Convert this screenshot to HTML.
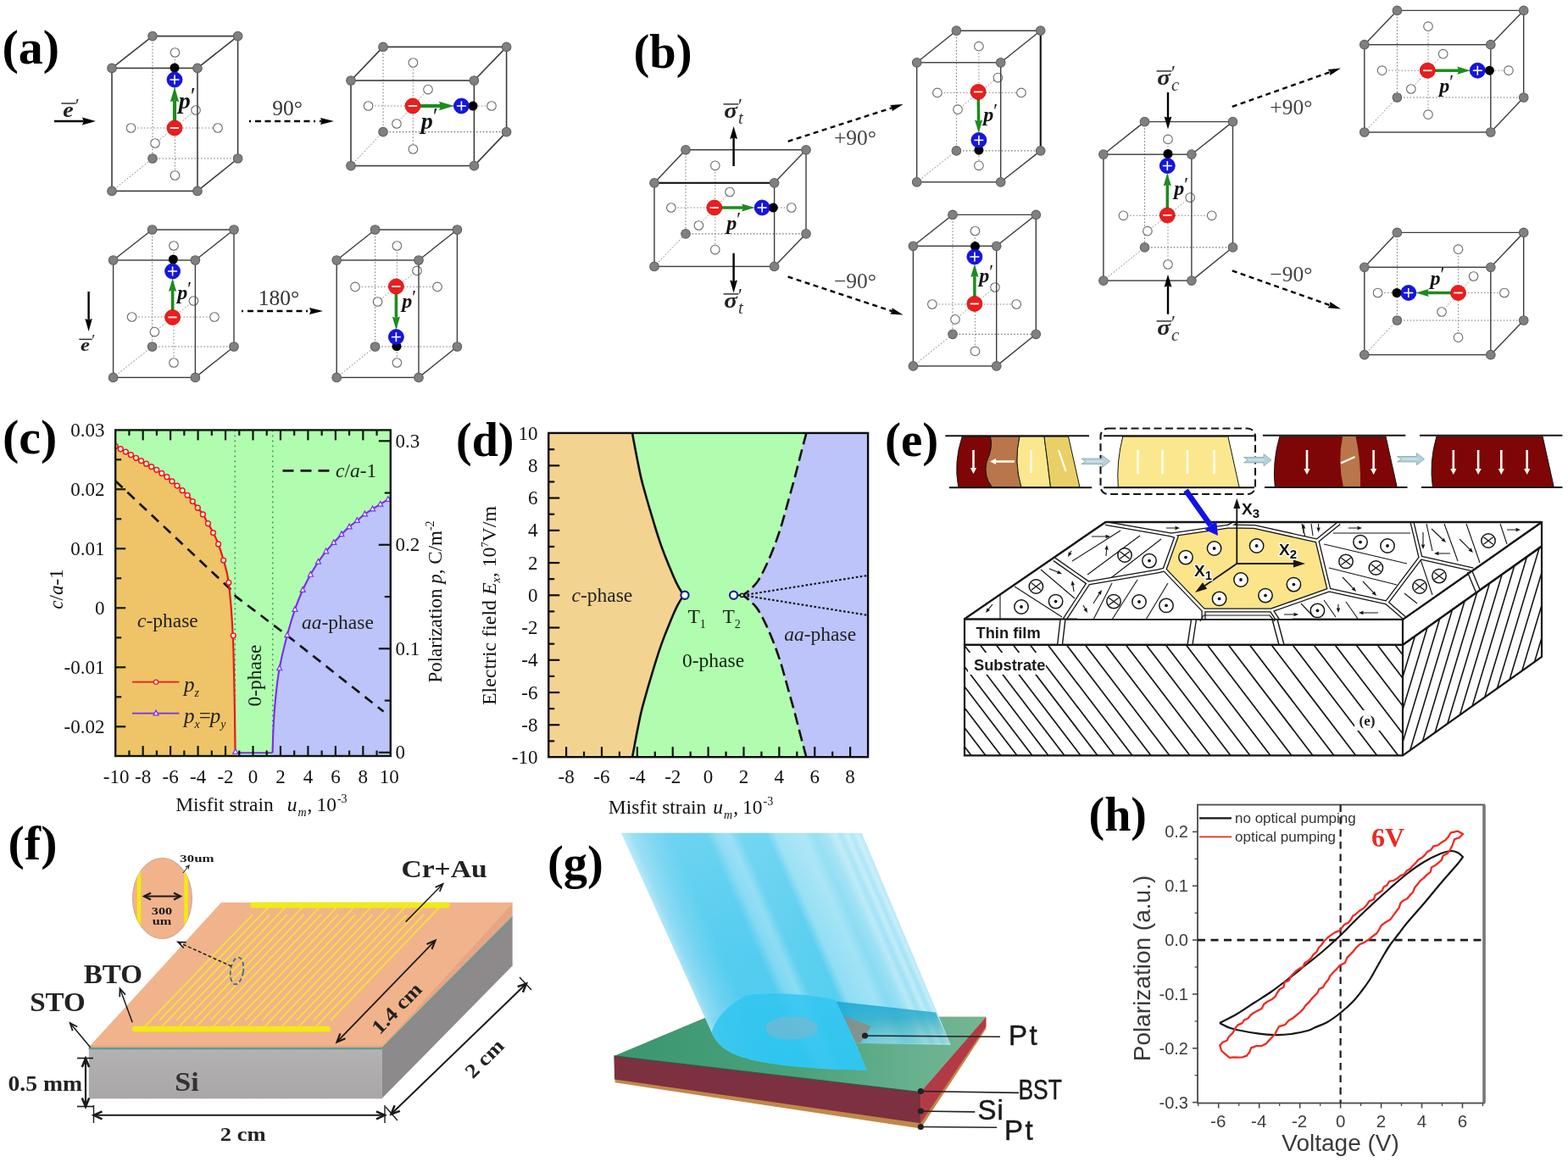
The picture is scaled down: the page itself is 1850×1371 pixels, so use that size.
<!DOCTYPE html>
<html><head><meta charset="utf-8"><title>Figure</title>
<style>
html,body{margin:0;padding:0;background:#fff;}
body{width:1850px;height:1371px;overflow:hidden;}
svg{display:block;}
text{white-space:pre;}
</style></head><body>
<svg width="1850" height="1371" viewBox="0 0 1850 1371">
<rect width="1850" height="1371" fill="#fff"/>
<g>
<line x1="180" y1="42.6" x2="180" y2="187" stroke="#777" stroke-width="1" stroke-dasharray="1.6 2.2"/>
<line x1="180" y1="187" x2="280.6" y2="187" stroke="#777" stroke-width="1.2" stroke-dasharray="1.6 2.2"/>
<line x1="132" y1="225.4" x2="180" y2="187" stroke="#777" stroke-width="1" stroke-dasharray="1.6 2.2"/>
<line x1="154.5" y1="151" x2="257" y2="151" stroke="#888" stroke-width="1" stroke-dasharray="1.6 2.2"/>
<line x1="206.5" y1="62" x2="206.5" y2="207" stroke="#888" stroke-width="1" stroke-dasharray="1.6 2.2"/>
<line x1="183" y1="169" x2="231" y2="130" stroke="#888" stroke-width="1" stroke-dasharray="1.6 2.2"/>
<line x1="180" y1="42.6" x2="280.6" y2="42.6" stroke="#3c3c3c" stroke-width="1.6" />
<line x1="280.6" y1="42.6" x2="280.6" y2="187" stroke="#3c3c3c" stroke-width="1.6" />
<line x1="132" y1="80.4" x2="180" y2="42.6" stroke="#3c3c3c" stroke-width="1.6" />
<line x1="233" y1="80.4" x2="280.6" y2="42.6" stroke="#3c3c3c" stroke-width="1.6" />
<line x1="233" y1="225.4" x2="280.6" y2="187" stroke="#3c3c3c" stroke-width="1.6" />
<circle cx="206.5" cy="62" r="5.3" fill="#fff" stroke="#6a6a6a" stroke-width="1.1" />
<circle cx="206.5" cy="207" r="5.3" fill="#fff" stroke="#6a6a6a" stroke-width="1.1" />
<circle cx="154.5" cy="151" r="5.3" fill="#fff" stroke="#6a6a6a" stroke-width="1.1" />
<circle cx="257" cy="151" r="5.3" fill="#fff" stroke="#6a6a6a" stroke-width="1.1" />
<circle cx="231" cy="130" r="5.3" fill="#fff" stroke="#6a6a6a" stroke-width="1.1" />
<circle cx="183" cy="169" r="5.3" fill="#fff" stroke="#6a6a6a" stroke-width="1.1" />
<rect x="132" y="80.4" width="101" height="145" fill="none" stroke="#3c3c3c" stroke-width="1.6"/>
<circle cx="180" cy="42.6" r="5.3" fill="#808080" stroke="#606060" stroke-width="1.1" />
<circle cx="280.6" cy="42.6" r="5.3" fill="#808080" stroke="#606060" stroke-width="1.1" />
<circle cx="180" cy="187" r="5.3" fill="#808080" stroke="#606060" stroke-width="1.1" />
<circle cx="280.6" cy="187" r="5.3" fill="#808080" stroke="#606060" stroke-width="1.1" />
<circle cx="132" cy="80.4" r="5.3" fill="#808080" stroke="#606060" stroke-width="1.1" />
<circle cx="233" cy="80.4" r="5.3" fill="#808080" stroke="#606060" stroke-width="1.1" />
<circle cx="132" cy="225.4" r="5.3" fill="#808080" stroke="#606060" stroke-width="1.1" />
<circle cx="233" cy="225.4" r="5.3" fill="#808080" stroke="#606060" stroke-width="1.1" />
<circle cx="206" cy="80" r="5.5" fill="#000" stroke="none" stroke-width="1" />
<line x1="206" y1="143" x2="206" y2="118.34" stroke="#1c8c1c" stroke-width="4.2"/>
<polygon points="206,102.5 211.2,120.5 206,118.34 200.8,120.5" fill="#1c8c1c" stroke="none" stroke-width="1" />
<circle cx="206" cy="151" r="9" fill="#ee1c1c" stroke="#c01010" stroke-width="0.8" />
<line x1="200.8" y1="151" x2="211.2" y2="151" stroke="#fff" stroke-width="1.8" />
<circle cx="206" cy="94" r="9" fill="#1414e6" stroke="#0a0aa8" stroke-width="0.8" />
<line x1="200.5" y1="94" x2="211.5" y2="94" stroke="#fff" stroke-width="1.6" />
<line x1="206" y1="88.5" x2="206" y2="99.5" stroke="#fff" stroke-width="1.6" />
<text x="220" y="128" font-family="&quot;Liberation Serif&quot;, serif" font-size="28" font-weight="bold" font-style="italic" fill="#111" text-anchor="middle">p<tspan font-weight="normal" font-size="26.6" dy="-6.16" dx="-1.5">′</tspan></text>
</g>
<g>
<line x1="452" y1="55.4" x2="452" y2="155.6" stroke="#777" stroke-width="1" stroke-dasharray="1.6 2.2"/>
<line x1="452" y1="155.6" x2="597.6" y2="155.6" stroke="#777" stroke-width="1.2" stroke-dasharray="1.6 2.2"/>
<line x1="414" y1="195.6" x2="452" y2="155.6" stroke="#777" stroke-width="1" stroke-dasharray="1.6 2.2"/>
<line x1="434.6" y1="125" x2="580" y2="125" stroke="#888" stroke-width="1" stroke-dasharray="1.6 2.2"/>
<line x1="487.4" y1="74" x2="487.4" y2="176" stroke="#888" stroke-width="1" stroke-dasharray="1.6 2.2"/>
<line x1="468" y1="146" x2="505" y2="105.6" stroke="#888" stroke-width="1" stroke-dasharray="1.6 2.2"/>
<line x1="452" y1="55.4" x2="597.6" y2="55.4" stroke="#3c3c3c" stroke-width="1.6" />
<line x1="597.6" y1="55.4" x2="597.6" y2="155.6" stroke="#3c3c3c" stroke-width="1.6" />
<line x1="414" y1="95" x2="452" y2="55.4" stroke="#3c3c3c" stroke-width="1.6" />
<line x1="559.4" y1="95" x2="597.6" y2="55.4" stroke="#3c3c3c" stroke-width="1.6" />
<line x1="559.4" y1="195.6" x2="597.6" y2="155.6" stroke="#3c3c3c" stroke-width="1.6" />
<circle cx="487.4" cy="74" r="5.3" fill="#fff" stroke="#6a6a6a" stroke-width="1.1" />
<circle cx="487.4" cy="176" r="5.3" fill="#fff" stroke="#6a6a6a" stroke-width="1.1" />
<circle cx="434.6" cy="125" r="5.3" fill="#fff" stroke="#6a6a6a" stroke-width="1.1" />
<circle cx="580" cy="125" r="5.3" fill="#fff" stroke="#6a6a6a" stroke-width="1.1" />
<circle cx="505" cy="105.6" r="5.3" fill="#fff" stroke="#6a6a6a" stroke-width="1.1" />
<circle cx="468" cy="146" r="5.3" fill="#fff" stroke="#6a6a6a" stroke-width="1.1" />
<rect x="414" y="95" width="145.4" height="100.6" fill="none" stroke="#3c3c3c" stroke-width="1.6"/>
<circle cx="452" cy="55.4" r="5.3" fill="#808080" stroke="#606060" stroke-width="1.1" />
<circle cx="597.6" cy="55.4" r="5.3" fill="#808080" stroke="#606060" stroke-width="1.1" />
<circle cx="452" cy="155.6" r="5.3" fill="#808080" stroke="#606060" stroke-width="1.1" />
<circle cx="597.6" cy="155.6" r="5.3" fill="#808080" stroke="#606060" stroke-width="1.1" />
<circle cx="414" cy="95" r="5.3" fill="#808080" stroke="#606060" stroke-width="1.1" />
<circle cx="559.4" cy="95" r="5.3" fill="#808080" stroke="#606060" stroke-width="1.1" />
<circle cx="414" cy="195.6" r="5.3" fill="#808080" stroke="#606060" stroke-width="1.1" />
<circle cx="559.4" cy="195.6" r="5.3" fill="#808080" stroke="#606060" stroke-width="1.1" />
<circle cx="558" cy="125" r="5.5" fill="#000" stroke="none" stroke-width="1" />
<line x1="495" y1="125" x2="520.06" y2="125" stroke="#1c8c1c" stroke-width="4.2"/>
<polygon points="535.9,125 517.9,130.2 520.06,125 517.9,119.8" fill="#1c8c1c" stroke="none" stroke-width="1" />
<circle cx="487" cy="125" r="9" fill="#ee1c1c" stroke="#c01010" stroke-width="0.8" />
<line x1="481.8" y1="125" x2="492.2" y2="125" stroke="#fff" stroke-width="1.8" />
<circle cx="544.4" cy="125" r="9" fill="#1414e6" stroke="#0a0aa8" stroke-width="0.8" />
<line x1="538.9" y1="125" x2="549.9" y2="125" stroke="#fff" stroke-width="1.6" />
<line x1="544.4" y1="119.5" x2="544.4" y2="130.5" stroke="#fff" stroke-width="1.6" />
<text x="506" y="152" font-family="&quot;Liberation Serif&quot;, serif" font-size="28" font-weight="bold" font-style="italic" fill="#111" text-anchor="middle">p<tspan font-weight="normal" font-size="26.6" dy="-6.16" dx="-1.5">′</tspan></text>
</g>
<g>
<line x1="179.6" y1="271" x2="179.6" y2="409" stroke="#777" stroke-width="1" stroke-dasharray="1.6 2.2"/>
<line x1="179.6" y1="409" x2="276" y2="409" stroke="#777" stroke-width="1.2" stroke-dasharray="1.6 2.2"/>
<line x1="133.6" y1="445.4" x2="179.6" y2="409" stroke="#777" stroke-width="1" stroke-dasharray="1.6 2.2"/>
<line x1="155.6" y1="374" x2="253" y2="374" stroke="#888" stroke-width="1" stroke-dasharray="1.6 2.2"/>
<line x1="205" y1="290" x2="205" y2="428" stroke="#888" stroke-width="1" stroke-dasharray="1.6 2.2"/>
<line x1="182.4" y1="391.6" x2="228.4" y2="355" stroke="#888" stroke-width="1" stroke-dasharray="1.6 2.2"/>
<line x1="179.6" y1="271" x2="276" y2="271" stroke="#3c3c3c" stroke-width="1.4" />
<line x1="276" y1="271" x2="276" y2="409" stroke="#3c3c3c" stroke-width="1.4" />
<line x1="133.6" y1="307" x2="179.6" y2="271" stroke="#3c3c3c" stroke-width="1.4" />
<line x1="230.4" y1="307" x2="276" y2="271" stroke="#3c3c3c" stroke-width="1.4" />
<line x1="230.4" y1="445.4" x2="276" y2="409" stroke="#3c3c3c" stroke-width="1.4" />
<circle cx="205" cy="290" r="5.3" fill="#fff" stroke="#6a6a6a" stroke-width="1.1" />
<circle cx="205" cy="428" r="5.3" fill="#fff" stroke="#6a6a6a" stroke-width="1.1" />
<circle cx="155.6" cy="374" r="5.3" fill="#fff" stroke="#6a6a6a" stroke-width="1.1" />
<circle cx="253" cy="374" r="5.3" fill="#fff" stroke="#6a6a6a" stroke-width="1.1" />
<circle cx="228.4" cy="355" r="5.3" fill="#fff" stroke="#6a6a6a" stroke-width="1.1" />
<circle cx="182.4" cy="391.6" r="5.3" fill="#fff" stroke="#6a6a6a" stroke-width="1.1" />
<rect x="133.6" y="307" width="96.8" height="138.4" fill="none" stroke="#3c3c3c" stroke-width="1.4"/>
<circle cx="179.6" cy="271" r="5.3" fill="#808080" stroke="#606060" stroke-width="1.1" />
<circle cx="276" cy="271" r="5.3" fill="#808080" stroke="#606060" stroke-width="1.1" />
<circle cx="179.6" cy="409" r="5.3" fill="#808080" stroke="#606060" stroke-width="1.1" />
<circle cx="276" cy="409" r="5.3" fill="#808080" stroke="#606060" stroke-width="1.1" />
<circle cx="133.6" cy="307" r="5.3" fill="#808080" stroke="#606060" stroke-width="1.1" />
<circle cx="230.4" cy="307" r="5.3" fill="#808080" stroke="#606060" stroke-width="1.1" />
<circle cx="133.6" cy="445.4" r="5.3" fill="#808080" stroke="#606060" stroke-width="1.1" />
<circle cx="230.4" cy="445.4" r="5.3" fill="#808080" stroke="#606060" stroke-width="1.1" />
<circle cx="204.4" cy="306" r="5.5" fill="#000" stroke="none" stroke-width="1" />
<line x1="203.6" y1="366.4" x2="203.6" y2="342.14" stroke="#1c8c1c" stroke-width="3.5"/>
<polygon points="203.6,328.5 208.2,344 203.6,342.14 199,344" fill="#1c8c1c" stroke="none" stroke-width="1" />
<circle cx="203.6" cy="374.4" r="9" fill="#ee1c1c" stroke="#c01010" stroke-width="0.8" />
<line x1="198.4" y1="374.4" x2="208.8" y2="374.4" stroke="#fff" stroke-width="1.8" />
<circle cx="203.6" cy="320" r="9" fill="#1414e6" stroke="#0a0aa8" stroke-width="0.8" />
<line x1="198.1" y1="320" x2="209.1" y2="320" stroke="#fff" stroke-width="1.6" />
<line x1="203.6" y1="314.5" x2="203.6" y2="325.5" stroke="#fff" stroke-width="1.6" />
<text x="217" y="353" font-family="&quot;Liberation Serif&quot;, serif" font-size="24" font-weight="bold" font-style="italic" fill="#111" text-anchor="middle">p<tspan font-weight="normal" font-size="22.8" dy="-5.28" dx="-1.5">′</tspan></text>
</g>
<g>
<line x1="442.6" y1="271" x2="442.6" y2="409" stroke="#777" stroke-width="1" stroke-dasharray="1.6 2.2"/>
<line x1="442.6" y1="409" x2="539.4" y2="409" stroke="#777" stroke-width="1.2" stroke-dasharray="1.6 2.2"/>
<line x1="397.2" y1="445.4" x2="442.6" y2="409" stroke="#777" stroke-width="1" stroke-dasharray="1.6 2.2"/>
<line x1="419" y1="338.4" x2="516" y2="338.4" stroke="#888" stroke-width="1" stroke-dasharray="1.6 2.2"/>
<line x1="468.4" y1="290" x2="468.4" y2="428" stroke="#888" stroke-width="1" stroke-dasharray="1.6 2.2"/>
<line x1="445.6" y1="356" x2="492" y2="319.4" stroke="#888" stroke-width="1" stroke-dasharray="1.6 2.2"/>
<line x1="442.6" y1="271" x2="539.4" y2="271" stroke="#3c3c3c" stroke-width="1.4" />
<line x1="539.4" y1="271" x2="539.4" y2="409" stroke="#3c3c3c" stroke-width="1.4" />
<line x1="397.2" y1="307" x2="442.6" y2="271" stroke="#3c3c3c" stroke-width="1.4" />
<line x1="494" y1="307" x2="539.4" y2="271" stroke="#3c3c3c" stroke-width="1.4" />
<line x1="494" y1="445.4" x2="539.4" y2="409" stroke="#3c3c3c" stroke-width="1.4" />
<circle cx="468.4" cy="290" r="5.3" fill="#fff" stroke="#6a6a6a" stroke-width="1.1" />
<circle cx="468.4" cy="428" r="5.3" fill="#fff" stroke="#6a6a6a" stroke-width="1.1" />
<circle cx="419" cy="338.4" r="5.3" fill="#fff" stroke="#6a6a6a" stroke-width="1.1" />
<circle cx="516" cy="338.4" r="5.3" fill="#fff" stroke="#6a6a6a" stroke-width="1.1" />
<circle cx="492" cy="319.4" r="5.3" fill="#fff" stroke="#6a6a6a" stroke-width="1.1" />
<circle cx="445.6" cy="356" r="5.3" fill="#fff" stroke="#6a6a6a" stroke-width="1.1" />
<rect x="397.2" y="307" width="96.8" height="138.4" fill="none" stroke="#3c3c3c" stroke-width="1.4"/>
<circle cx="442.6" cy="271" r="5.3" fill="#808080" stroke="#606060" stroke-width="1.1" />
<circle cx="539.4" cy="271" r="5.3" fill="#808080" stroke="#606060" stroke-width="1.1" />
<circle cx="442.6" cy="409" r="5.3" fill="#808080" stroke="#606060" stroke-width="1.1" />
<circle cx="539.4" cy="409" r="5.3" fill="#808080" stroke="#606060" stroke-width="1.1" />
<circle cx="397.2" cy="307" r="5.3" fill="#808080" stroke="#606060" stroke-width="1.1" />
<circle cx="494" cy="307" r="5.3" fill="#808080" stroke="#606060" stroke-width="1.1" />
<circle cx="397.2" cy="445.4" r="5.3" fill="#808080" stroke="#606060" stroke-width="1.1" />
<circle cx="494" cy="445.4" r="5.3" fill="#808080" stroke="#606060" stroke-width="1.1" />
<circle cx="468" cy="408.6" r="5.5" fill="#000" stroke="none" stroke-width="1" />
<line x1="467.4" y1="346" x2="467.4" y2="375.46" stroke="#1c8c1c" stroke-width="3.5"/>
<polygon points="467.4,389.1 462.8,373.6 467.4,375.46 472,373.6" fill="#1c8c1c" stroke="none" stroke-width="1" />
<circle cx="467.4" cy="338" r="9" fill="#ee1c1c" stroke="#c01010" stroke-width="0.8" />
<line x1="462.2" y1="338" x2="472.6" y2="338" stroke="#fff" stroke-width="1.8" />
<circle cx="467.4" cy="397.6" r="9" fill="#1414e6" stroke="#0a0aa8" stroke-width="0.8" />
<line x1="461.9" y1="397.6" x2="472.9" y2="397.6" stroke="#fff" stroke-width="1.6" />
<line x1="467.4" y1="392.1" x2="467.4" y2="403.1" stroke="#fff" stroke-width="1.6" />
<text x="482" y="363" font-family="&quot;Liberation Serif&quot;, serif" font-size="24" font-weight="bold" font-style="italic" fill="#111" text-anchor="middle">p<tspan font-weight="normal" font-size="22.8" dy="-5.28" dx="-1.5">′</tspan></text>
</g>
<line x1="64" y1="143" x2="98.6" y2="143" stroke="#000" stroke-width="2.6"/>
<polygon points="113,143 97,147.4 98.6,143 97,138.6" fill="#000" stroke="none" stroke-width="1" />
<text transform="translate(80.5,137.5) scale(1.12,1)" font-family="&quot;Liberation Serif&quot;, serif" font-size="25" font-weight="bold" font-style="italic" fill="#222" text-anchor="middle">e</text>
<line x1="72.38" y1="122" x2="89.62" y2="122" stroke="#333" stroke-width="1.5" />
<text x="89.12" y="130.5" font-family="&quot;Liberation Serif&quot;, serif" font-size="21.25" fill="#222">′</text>
<line x1="104.6" y1="344" x2="104.6" y2="377.5" stroke="#000" stroke-width="2.4"/>
<polygon points="104.6,391 100.4,376 104.6,377.5 108.8,376" fill="#000" stroke="none" stroke-width="1" />
<text transform="translate(100.5,414) scale(1.12,1)" font-family="&quot;Liberation Serif&quot;, serif" font-size="22" font-weight="bold" font-style="italic" fill="#222" text-anchor="middle">e</text>
<line x1="93.35" y1="400.36" x2="108.65" y2="400.36" stroke="#333" stroke-width="1.5" />
<text x="108.15" y="407.84" font-family="&quot;Liberation Serif&quot;, serif" font-size="18.7" fill="#222">′</text>
<line x1="294" y1="143" x2="379.6" y2="143" stroke="#000" stroke-width="2.4" stroke-dasharray="2 5 7 4.5 7 4.5 7 4.5 7 4.5 7 4.5 7 4.5"/>
<polygon points="394,143 378,147 379.6,143 378,139" fill="#000" stroke="none" stroke-width="1" />
<text x="339" y="135.5" font-family="&quot;Liberation Serif&quot;, serif" font-size="25.5" font-weight="normal" font-style="normal" fill="#333" text-anchor="middle" >90°</text>
<line x1="285" y1="367" x2="366.6" y2="367" stroke="#000" stroke-width="2.4" stroke-dasharray="2 5 7 4.5 7 4.5 7 4.5 7 4.5 7 4.5 7 4.5"/>
<polygon points="381,367 365,371 366.6,367 365,363" fill="#000" stroke="none" stroke-width="1" />
<text x="329" y="360" font-family="&quot;Liberation Serif&quot;, serif" font-size="25.5" font-weight="normal" font-style="normal" fill="#333" text-anchor="middle" >180°</text>
<g>
<line x1="809" y1="176.8" x2="809" y2="275.8" stroke="#777" stroke-width="1" stroke-dasharray="1.6 2.2"/>
<line x1="809" y1="275.8" x2="951" y2="275.8" stroke="#777" stroke-width="1.2" stroke-dasharray="1.6 2.2"/>
<line x1="772" y1="314.4" x2="809" y2="275.8" stroke="#777" stroke-width="1" stroke-dasharray="1.6 2.2"/>
<line x1="791.8" y1="245" x2="933.8" y2="245" stroke="#888" stroke-width="1" stroke-dasharray="1.6 2.2"/>
<line x1="843.8" y1="195.3" x2="843.8" y2="294.6" stroke="#888" stroke-width="1" stroke-dasharray="1.6 2.2"/>
<line x1="824.4" y1="266" x2="861" y2="226.5" stroke="#888" stroke-width="1" stroke-dasharray="1.6 2.2"/>
<line x1="809" y1="176.8" x2="951" y2="176.8" stroke="#3c3c3c" stroke-width="1.4" />
<line x1="951" y1="176.8" x2="951" y2="275.8" stroke="#3c3c3c" stroke-width="1.4" />
<line x1="772" y1="215.8" x2="809" y2="176.8" stroke="#3c3c3c" stroke-width="1.4" />
<line x1="913.6" y1="215.8" x2="951" y2="176.8" stroke="#3c3c3c" stroke-width="1.4" />
<line x1="913.6" y1="314.4" x2="951" y2="275.8" stroke="#3c3c3c" stroke-width="1.4" />
<circle cx="843.8" cy="195.3" r="5.3" fill="#fff" stroke="#6a6a6a" stroke-width="1.1" />
<circle cx="843.8" cy="294.6" r="5.3" fill="#fff" stroke="#6a6a6a" stroke-width="1.1" />
<circle cx="791.8" cy="245" r="5.3" fill="#fff" stroke="#6a6a6a" stroke-width="1.1" />
<circle cx="933.8" cy="245" r="5.3" fill="#fff" stroke="#6a6a6a" stroke-width="1.1" />
<circle cx="861" cy="226.5" r="5.3" fill="#fff" stroke="#6a6a6a" stroke-width="1.1" />
<circle cx="824.4" cy="266" r="5.3" fill="#fff" stroke="#6a6a6a" stroke-width="1.1" />
<rect x="772" y="215.8" width="141.6" height="98.6" fill="none" stroke="#3c3c3c" stroke-width="1.4"/>
<line x1="772" y1="215.8" x2="913.6" y2="215.8" stroke="#111" stroke-width="2" />
<circle cx="809" cy="176.8" r="5.3" fill="#808080" stroke="#606060" stroke-width="1.1" />
<circle cx="951" cy="176.8" r="5.3" fill="#808080" stroke="#606060" stroke-width="1.1" />
<circle cx="809" cy="275.8" r="5.3" fill="#808080" stroke="#606060" stroke-width="1.1" />
<circle cx="951" cy="275.8" r="5.3" fill="#808080" stroke="#606060" stroke-width="1.1" />
<circle cx="772" cy="215.8" r="5.3" fill="#808080" stroke="#606060" stroke-width="1.1" />
<circle cx="913.6" cy="215.8" r="5.3" fill="#808080" stroke="#606060" stroke-width="1.1" />
<circle cx="772" cy="314.4" r="5.3" fill="#808080" stroke="#606060" stroke-width="1.1" />
<circle cx="913.6" cy="314.4" r="5.3" fill="#808080" stroke="#606060" stroke-width="1.1" />
<circle cx="912.3" cy="245" r="5.5" fill="#000" stroke="none" stroke-width="1" />
<line x1="850.8" y1="245" x2="877.06" y2="245" stroke="#1c8c1c" stroke-width="3.5"/>
<polygon points="890.7,245 875.2,249.6 877.06,245 875.2,240.4" fill="#1c8c1c" stroke="none" stroke-width="1" />
<circle cx="842.8" cy="245" r="9" fill="#ee1c1c" stroke="#c01010" stroke-width="0.8" />
<line x1="837.6" y1="245" x2="848" y2="245" stroke="#fff" stroke-width="1.8" />
<circle cx="899.2" cy="245" r="9" fill="#1414e6" stroke="#0a0aa8" stroke-width="0.8" />
<line x1="893.7" y1="245" x2="904.7" y2="245" stroke="#fff" stroke-width="1.6" />
<line x1="899.2" y1="239.5" x2="899.2" y2="250.5" stroke="#fff" stroke-width="1.6" />
<text x="865" y="271" font-family="&quot;Liberation Serif&quot;, serif" font-size="24" font-weight="bold" font-style="italic" fill="#111" text-anchor="middle">p<tspan font-weight="normal" font-size="22.8" dy="-5.28" dx="-1.5">′</tspan></text>
</g>
<g>
<line x1="1128.4" y1="36.2" x2="1128.4" y2="177.9" stroke="#777" stroke-width="1" stroke-dasharray="1.6 2.2"/>
<line x1="1128.4" y1="177.9" x2="1227.7" y2="177.9" stroke="#777" stroke-width="1.2" stroke-dasharray="1.6 2.2"/>
<line x1="1081.7" y1="214.8" x2="1128.4" y2="177.9" stroke="#777" stroke-width="1" stroke-dasharray="1.6 2.2"/>
<line x1="1105.9" y1="109.4" x2="1204.9" y2="109.4" stroke="#888" stroke-width="1" stroke-dasharray="1.6 2.2"/>
<line x1="1154.9" y1="54.7" x2="1154.9" y2="195.3" stroke="#888" stroke-width="1" stroke-dasharray="1.6 2.2"/>
<line x1="1130" y1="129.2" x2="1177.4" y2="91.6" stroke="#888" stroke-width="1" stroke-dasharray="1.6 2.2"/>
<line x1="1128.4" y1="36.2" x2="1227.7" y2="36.2" stroke="#3c3c3c" stroke-width="1.4" />
<line x1="1227.7" y1="36.2" x2="1227.7" y2="177.9" stroke="#3c3c3c" stroke-width="1.4" />
<line x1="1081.7" y1="73.8" x2="1128.4" y2="36.2" stroke="#3c3c3c" stroke-width="1.4" />
<line x1="1180.7" y1="73.8" x2="1227.7" y2="36.2" stroke="#3c3c3c" stroke-width="1.4" />
<line x1="1180.7" y1="214.8" x2="1227.7" y2="177.9" stroke="#3c3c3c" stroke-width="1.4" />
<circle cx="1154.9" cy="54.7" r="5.3" fill="#fff" stroke="#6a6a6a" stroke-width="1.1" />
<circle cx="1154.9" cy="195.3" r="5.3" fill="#fff" stroke="#6a6a6a" stroke-width="1.1" />
<circle cx="1105.9" cy="109.4" r="5.3" fill="#fff" stroke="#6a6a6a" stroke-width="1.1" />
<circle cx="1204.9" cy="109.4" r="5.3" fill="#fff" stroke="#6a6a6a" stroke-width="1.1" />
<circle cx="1177.4" cy="91.6" r="5.3" fill="#fff" stroke="#6a6a6a" stroke-width="1.1" />
<circle cx="1130" cy="129.2" r="5.3" fill="#fff" stroke="#6a6a6a" stroke-width="1.1" />
<rect x="1081.7" y="73.8" width="99" height="141" fill="none" stroke="#3c3c3c" stroke-width="1.4"/>
<line x1="1227.7" y1="36.2" x2="1227.7" y2="177.9" stroke="#111" stroke-width="2" />
<circle cx="1128.4" cy="36.2" r="5.3" fill="#808080" stroke="#606060" stroke-width="1.1" />
<circle cx="1227.7" cy="36.2" r="5.3" fill="#808080" stroke="#606060" stroke-width="1.1" />
<circle cx="1128.4" cy="177.9" r="5.3" fill="#808080" stroke="#606060" stroke-width="1.1" />
<circle cx="1227.7" cy="177.9" r="5.3" fill="#808080" stroke="#606060" stroke-width="1.1" />
<circle cx="1081.7" cy="73.8" r="5.3" fill="#808080" stroke="#606060" stroke-width="1.1" />
<circle cx="1180.7" cy="73.8" r="5.3" fill="#808080" stroke="#606060" stroke-width="1.1" />
<circle cx="1081.7" cy="214.8" r="5.3" fill="#808080" stroke="#606060" stroke-width="1.1" />
<circle cx="1180.7" cy="214.8" r="5.3" fill="#808080" stroke="#606060" stroke-width="1.1" />
<circle cx="1154.9" cy="177.2" r="5.5" fill="#000" stroke="none" stroke-width="1" />
<line x1="1154.3" y1="116.4" x2="1154.63" y2="143.26" stroke="#1c8c1c" stroke-width="3.5"/>
<polygon points="1154.8,156.9 1150.01,141.46 1154.63,143.26 1159.2,141.35" fill="#1c8c1c" stroke="none" stroke-width="1" />
<circle cx="1154.2" cy="108.4" r="9" fill="#ee1c1c" stroke="#c01010" stroke-width="0.8" />
<line x1="1149" y1="108.4" x2="1159.4" y2="108.4" stroke="#fff" stroke-width="1.8" />
<circle cx="1154.9" cy="165.4" r="9" fill="#1414e6" stroke="#0a0aa8" stroke-width="0.8" />
<line x1="1149.4" y1="165.4" x2="1160.4" y2="165.4" stroke="#fff" stroke-width="1.6" />
<line x1="1154.9" y1="159.9" x2="1154.9" y2="170.9" stroke="#fff" stroke-width="1.6" />
<text x="1168" y="143" font-family="&quot;Liberation Serif&quot;, serif" font-size="24" font-weight="bold" font-style="italic" fill="#111" text-anchor="middle">p<tspan font-weight="normal" font-size="22.8" dy="-5.28" dx="-1.5">′</tspan></text>
</g>
<g>
<line x1="1124" y1="253.4" x2="1124" y2="394.3" stroke="#777" stroke-width="1" stroke-dasharray="1.6 2.2"/>
<line x1="1124" y1="394.3" x2="1222.3" y2="394.3" stroke="#777" stroke-width="1.2" stroke-dasharray="1.6 2.2"/>
<line x1="1077.4" y1="431.9" x2="1124" y2="394.3" stroke="#777" stroke-width="1" stroke-dasharray="1.6 2.2"/>
<line x1="1099.9" y1="359" x2="1199.2" y2="359" stroke="#888" stroke-width="1" stroke-dasharray="1.6 2.2"/>
<line x1="1150.5" y1="272.5" x2="1150.5" y2="414.4" stroke="#888" stroke-width="1" stroke-dasharray="1.6 2.2"/>
<line x1="1127" y1="376.8" x2="1174" y2="339" stroke="#888" stroke-width="1" stroke-dasharray="1.6 2.2"/>
<line x1="1124" y1="253.4" x2="1222.3" y2="253.4" stroke="#3c3c3c" stroke-width="1.4" />
<line x1="1222.3" y1="253.4" x2="1222.3" y2="394.3" stroke="#3c3c3c" stroke-width="1.4" />
<line x1="1077.4" y1="290.3" x2="1124" y2="253.4" stroke="#3c3c3c" stroke-width="1.4" />
<line x1="1175.7" y1="290.3" x2="1222.3" y2="253.4" stroke="#3c3c3c" stroke-width="1.4" />
<line x1="1175.7" y1="431.9" x2="1222.3" y2="394.3" stroke="#3c3c3c" stroke-width="1.4" />
<circle cx="1150.5" cy="272.5" r="5.3" fill="#fff" stroke="#6a6a6a" stroke-width="1.1" />
<circle cx="1150.5" cy="414.4" r="5.3" fill="#fff" stroke="#6a6a6a" stroke-width="1.1" />
<circle cx="1099.9" cy="359" r="5.3" fill="#fff" stroke="#6a6a6a" stroke-width="1.1" />
<circle cx="1199.2" cy="359" r="5.3" fill="#fff" stroke="#6a6a6a" stroke-width="1.1" />
<circle cx="1174" cy="339" r="5.3" fill="#fff" stroke="#6a6a6a" stroke-width="1.1" />
<circle cx="1127" cy="376.8" r="5.3" fill="#fff" stroke="#6a6a6a" stroke-width="1.1" />
<rect x="1077.4" y="290.3" width="98.3" height="141.6" fill="none" stroke="#3c3c3c" stroke-width="1.4"/>
<circle cx="1124" cy="253.4" r="5.3" fill="#808080" stroke="#606060" stroke-width="1.1" />
<circle cx="1222.3" cy="253.4" r="5.3" fill="#808080" stroke="#606060" stroke-width="1.1" />
<circle cx="1124" cy="394.3" r="5.3" fill="#808080" stroke="#606060" stroke-width="1.1" />
<circle cx="1222.3" cy="394.3" r="5.3" fill="#808080" stroke="#606060" stroke-width="1.1" />
<circle cx="1077.4" cy="290.3" r="5.3" fill="#808080" stroke="#606060" stroke-width="1.1" />
<circle cx="1175.7" cy="290.3" r="5.3" fill="#808080" stroke="#606060" stroke-width="1.1" />
<circle cx="1077.4" cy="431.9" r="5.3" fill="#808080" stroke="#606060" stroke-width="1.1" />
<circle cx="1175.7" cy="431.9" r="5.3" fill="#808080" stroke="#606060" stroke-width="1.1" />
<circle cx="1150.5" cy="290.6" r="5.5" fill="#000" stroke="none" stroke-width="1" />
<line x1="1149.9" y1="350.4" x2="1149.9" y2="325.14" stroke="#1c8c1c" stroke-width="3.5"/>
<polygon points="1149.9,311.5 1154.5,327 1149.9,325.14 1145.3,327" fill="#1c8c1c" stroke="none" stroke-width="1" />
<circle cx="1149.9" cy="358.4" r="9" fill="#ee1c1c" stroke="#c01010" stroke-width="0.8" />
<line x1="1144.7" y1="358.4" x2="1155.1" y2="358.4" stroke="#fff" stroke-width="1.8" />
<circle cx="1149.9" cy="303" r="9" fill="#1414e6" stroke="#0a0aa8" stroke-width="0.8" />
<line x1="1144.4" y1="303" x2="1155.4" y2="303" stroke="#fff" stroke-width="1.6" />
<line x1="1149.9" y1="297.5" x2="1149.9" y2="308.5" stroke="#fff" stroke-width="1.6" />
<text x="1163" y="333" font-family="&quot;Liberation Serif&quot;, serif" font-size="24" font-weight="bold" font-style="italic" fill="#111" text-anchor="middle">p<tspan font-weight="normal" font-size="22.8" dy="-5.28" dx="-1.5">′</tspan></text>
</g>
<g>
<line x1="1350.5" y1="143.6" x2="1350.5" y2="291.8" stroke="#777" stroke-width="1" stroke-dasharray="1.6 2.2"/>
<line x1="1350.5" y1="291.8" x2="1454.5" y2="291.8" stroke="#777" stroke-width="1.2" stroke-dasharray="1.6 2.2"/>
<line x1="1301.9" y1="331.1" x2="1350.5" y2="291.8" stroke="#777" stroke-width="1" stroke-dasharray="1.6 2.2"/>
<line x1="1325.4" y1="254.3" x2="1429.7" y2="254.3" stroke="#888" stroke-width="1" stroke-dasharray="1.6 2.2"/>
<line x1="1378" y1="164.4" x2="1378" y2="312" stroke="#888" stroke-width="1" stroke-dasharray="1.6 2.2"/>
<line x1="1353.9" y1="272.7" x2="1404.2" y2="233.1" stroke="#888" stroke-width="1" stroke-dasharray="1.6 2.2"/>
<line x1="1350.5" y1="143.6" x2="1454.5" y2="143.6" stroke="#3c3c3c" stroke-width="1.4" />
<line x1="1454.5" y1="143.6" x2="1454.5" y2="291.8" stroke="#3c3c3c" stroke-width="1.4" />
<line x1="1301.9" y1="182.2" x2="1350.5" y2="143.6" stroke="#3c3c3c" stroke-width="1.4" />
<line x1="1405.9" y1="182.2" x2="1454.5" y2="143.6" stroke="#3c3c3c" stroke-width="1.4" />
<line x1="1405.9" y1="331.1" x2="1454.5" y2="291.8" stroke="#3c3c3c" stroke-width="1.4" />
<circle cx="1378" cy="164.4" r="5.3" fill="#fff" stroke="#6a6a6a" stroke-width="1.1" />
<circle cx="1378" cy="312" r="5.3" fill="#fff" stroke="#6a6a6a" stroke-width="1.1" />
<circle cx="1325.4" cy="254.3" r="5.3" fill="#fff" stroke="#6a6a6a" stroke-width="1.1" />
<circle cx="1429.7" cy="254.3" r="5.3" fill="#fff" stroke="#6a6a6a" stroke-width="1.1" />
<circle cx="1404.2" cy="233.1" r="5.3" fill="#fff" stroke="#6a6a6a" stroke-width="1.1" />
<circle cx="1353.9" cy="272.7" r="5.3" fill="#fff" stroke="#6a6a6a" stroke-width="1.1" />
<rect x="1301.9" y="182.2" width="104" height="148.9" fill="none" stroke="#3c3c3c" stroke-width="1.4"/>
<circle cx="1350.5" cy="143.6" r="5.3" fill="#808080" stroke="#606060" stroke-width="1.1" />
<circle cx="1454.5" cy="143.6" r="5.3" fill="#808080" stroke="#606060" stroke-width="1.1" />
<circle cx="1350.5" cy="291.8" r="5.3" fill="#808080" stroke="#606060" stroke-width="1.1" />
<circle cx="1454.5" cy="291.8" r="5.3" fill="#808080" stroke="#606060" stroke-width="1.1" />
<circle cx="1301.9" cy="182.2" r="5.3" fill="#808080" stroke="#606060" stroke-width="1.1" />
<circle cx="1405.9" cy="182.2" r="5.3" fill="#808080" stroke="#606060" stroke-width="1.1" />
<circle cx="1301.9" cy="331.1" r="5.3" fill="#808080" stroke="#606060" stroke-width="1.1" />
<circle cx="1405.9" cy="331.1" r="5.3" fill="#808080" stroke="#606060" stroke-width="1.1" />
<circle cx="1378" cy="181.5" r="5.5" fill="#000" stroke="none" stroke-width="1" />
<line x1="1377.3" y1="246" x2="1377.3" y2="217.74" stroke="#1c8c1c" stroke-width="3.5"/>
<polygon points="1377.3,204.1 1381.9,219.6 1377.3,217.74 1372.7,219.6" fill="#1c8c1c" stroke="none" stroke-width="1" />
<circle cx="1377.3" cy="254" r="9" fill="#ee1c1c" stroke="#c01010" stroke-width="0.8" />
<line x1="1372.1" y1="254" x2="1382.5" y2="254" stroke="#fff" stroke-width="1.8" />
<circle cx="1377.3" cy="195.6" r="9" fill="#1414e6" stroke="#0a0aa8" stroke-width="0.8" />
<line x1="1371.8" y1="195.6" x2="1382.8" y2="195.6" stroke="#fff" stroke-width="1.6" />
<line x1="1377.3" y1="190.1" x2="1377.3" y2="201.1" stroke="#fff" stroke-width="1.6" />
<text x="1393" y="230" font-family="&quot;Liberation Serif&quot;, serif" font-size="24" font-weight="bold" font-style="italic" fill="#111" text-anchor="middle">p<tspan font-weight="normal" font-size="22.8" dy="-5.28" dx="-1.5">′</tspan></text>
</g>
<g>
<line x1="1648.4" y1="12.4" x2="1648.4" y2="115" stroke="#777" stroke-width="1" stroke-dasharray="1.6 2.2"/>
<line x1="1648.4" y1="115" x2="1797.7" y2="115" stroke="#777" stroke-width="1.2" stroke-dasharray="1.6 2.2"/>
<line x1="1609.8" y1="156" x2="1648.4" y2="115" stroke="#777" stroke-width="1" stroke-dasharray="1.6 2.2"/>
<line x1="1630.6" y1="83.2" x2="1779.9" y2="83.2" stroke="#888" stroke-width="1" stroke-dasharray="1.6 2.2"/>
<line x1="1685" y1="31.2" x2="1685" y2="135.2" stroke="#888" stroke-width="1" stroke-dasharray="1.6 2.2"/>
<line x1="1664.8" y1="105" x2="1702.7" y2="63.7" stroke="#888" stroke-width="1" stroke-dasharray="1.6 2.2"/>
<line x1="1648.4" y1="12.4" x2="1797.7" y2="12.4" stroke="#3c3c3c" stroke-width="1.4" />
<line x1="1797.7" y1="12.4" x2="1797.7" y2="115" stroke="#3c3c3c" stroke-width="1.4" />
<line x1="1609.8" y1="52.7" x2="1648.4" y2="12.4" stroke="#3c3c3c" stroke-width="1.4" />
<line x1="1758.8" y1="52.7" x2="1797.7" y2="12.4" stroke="#3c3c3c" stroke-width="1.4" />
<line x1="1758.8" y1="156" x2="1797.7" y2="115" stroke="#3c3c3c" stroke-width="1.4" />
<circle cx="1685" cy="31.2" r="5.3" fill="#fff" stroke="#6a6a6a" stroke-width="1.1" />
<circle cx="1685" cy="135.2" r="5.3" fill="#fff" stroke="#6a6a6a" stroke-width="1.1" />
<circle cx="1630.6" cy="83.2" r="5.3" fill="#fff" stroke="#6a6a6a" stroke-width="1.1" />
<circle cx="1779.9" cy="83.2" r="5.3" fill="#fff" stroke="#6a6a6a" stroke-width="1.1" />
<circle cx="1702.7" cy="63.7" r="5.3" fill="#fff" stroke="#6a6a6a" stroke-width="1.1" />
<circle cx="1664.8" cy="105" r="5.3" fill="#fff" stroke="#6a6a6a" stroke-width="1.1" />
<rect x="1609.8" y="52.7" width="149" height="103.3" fill="none" stroke="#3c3c3c" stroke-width="1.4"/>
<circle cx="1648.4" cy="12.4" r="5.3" fill="#808080" stroke="#606060" stroke-width="1.1" />
<circle cx="1797.7" cy="12.4" r="5.3" fill="#808080" stroke="#606060" stroke-width="1.1" />
<circle cx="1648.4" cy="115" r="5.3" fill="#808080" stroke="#606060" stroke-width="1.1" />
<circle cx="1797.7" cy="115" r="5.3" fill="#808080" stroke="#606060" stroke-width="1.1" />
<circle cx="1609.8" cy="52.7" r="5.3" fill="#808080" stroke="#606060" stroke-width="1.1" />
<circle cx="1758.8" cy="52.7" r="5.3" fill="#808080" stroke="#606060" stroke-width="1.1" />
<circle cx="1609.8" cy="156" r="5.3" fill="#808080" stroke="#606060" stroke-width="1.1" />
<circle cx="1758.8" cy="156" r="5.3" fill="#808080" stroke="#606060" stroke-width="1.1" />
<circle cx="1757.4" cy="83.2" r="5.5" fill="#000" stroke="none" stroke-width="1" />
<line x1="1692.3" y1="83.2" x2="1721.16" y2="83.2" stroke="#1c8c1c" stroke-width="3.5"/>
<polygon points="1734.8,83.2 1719.3,87.8 1721.16,83.2 1719.3,78.6" fill="#1c8c1c" stroke="none" stroke-width="1" />
<circle cx="1684.3" cy="83.2" r="9" fill="#ee1c1c" stroke="#c01010" stroke-width="0.8" />
<line x1="1679.1" y1="83.2" x2="1689.5" y2="83.2" stroke="#fff" stroke-width="1.8" />
<circle cx="1743.3" cy="83.2" r="9" fill="#1414e6" stroke="#0a0aa8" stroke-width="0.8" />
<line x1="1737.8" y1="83.2" x2="1748.8" y2="83.2" stroke="#fff" stroke-width="1.6" />
<line x1="1743.3" y1="77.7" x2="1743.3" y2="88.7" stroke="#fff" stroke-width="1.6" />
<text x="1706" y="109" font-family="&quot;Liberation Serif&quot;, serif" font-size="24" font-weight="bold" font-style="italic" fill="#111" text-anchor="middle">p<tspan font-weight="normal" font-size="22.8" dy="-5.28" dx="-1.5">′</tspan></text>
</g>
<g>
<line x1="1648.4" y1="274.4" x2="1648.4" y2="378" stroke="#777" stroke-width="1" stroke-dasharray="1.6 2.2"/>
<line x1="1648.4" y1="378" x2="1797.7" y2="378" stroke="#777" stroke-width="1.2" stroke-dasharray="1.6 2.2"/>
<line x1="1609.8" y1="418.6" x2="1648.4" y2="378" stroke="#777" stroke-width="1" stroke-dasharray="1.6 2.2"/>
<line x1="1625.6" y1="345.5" x2="1774.9" y2="345.5" stroke="#888" stroke-width="1" stroke-dasharray="1.6 2.2"/>
<line x1="1720.5" y1="294.2" x2="1720.5" y2="398.2" stroke="#888" stroke-width="1" stroke-dasharray="1.6 2.2"/>
<line x1="1701" y1="368" x2="1738.6" y2="326" stroke="#888" stroke-width="1" stroke-dasharray="1.6 2.2"/>
<line x1="1648.4" y1="274.4" x2="1797.7" y2="274.4" stroke="#3c3c3c" stroke-width="1.4" />
<line x1="1797.7" y1="274.4" x2="1797.7" y2="378" stroke="#3c3c3c" stroke-width="1.4" />
<line x1="1609.8" y1="315.3" x2="1648.4" y2="274.4" stroke="#3c3c3c" stroke-width="1.4" />
<line x1="1758.8" y1="315.3" x2="1797.7" y2="274.4" stroke="#3c3c3c" stroke-width="1.4" />
<line x1="1758.8" y1="418.6" x2="1797.7" y2="378" stroke="#3c3c3c" stroke-width="1.4" />
<circle cx="1720.5" cy="294.2" r="5.3" fill="#fff" stroke="#6a6a6a" stroke-width="1.1" />
<circle cx="1720.5" cy="398.2" r="5.3" fill="#fff" stroke="#6a6a6a" stroke-width="1.1" />
<circle cx="1625.6" cy="345.5" r="5.3" fill="#fff" stroke="#6a6a6a" stroke-width="1.1" />
<circle cx="1774.9" cy="345.5" r="5.3" fill="#fff" stroke="#6a6a6a" stroke-width="1.1" />
<circle cx="1738.6" cy="326" r="5.3" fill="#fff" stroke="#6a6a6a" stroke-width="1.1" />
<circle cx="1701" cy="368" r="5.3" fill="#fff" stroke="#6a6a6a" stroke-width="1.1" />
<rect x="1609.8" y="315.3" width="149" height="103.3" fill="none" stroke="#3c3c3c" stroke-width="1.4"/>
<circle cx="1648.4" cy="274.4" r="5.3" fill="#808080" stroke="#606060" stroke-width="1.1" />
<circle cx="1797.7" cy="274.4" r="5.3" fill="#808080" stroke="#606060" stroke-width="1.1" />
<circle cx="1648.4" cy="378" r="5.3" fill="#808080" stroke="#606060" stroke-width="1.1" />
<circle cx="1797.7" cy="378" r="5.3" fill="#808080" stroke="#606060" stroke-width="1.1" />
<circle cx="1609.8" cy="315.3" r="5.3" fill="#808080" stroke="#606060" stroke-width="1.1" />
<circle cx="1758.8" cy="315.3" r="5.3" fill="#808080" stroke="#606060" stroke-width="1.1" />
<circle cx="1609.8" cy="418.6" r="5.3" fill="#808080" stroke="#606060" stroke-width="1.1" />
<circle cx="1758.8" cy="418.6" r="5.3" fill="#808080" stroke="#606060" stroke-width="1.1" />
<circle cx="1648" cy="345.5" r="5.5" fill="#000" stroke="none" stroke-width="1" />
<line x1="1712.5" y1="345.5" x2="1683.94" y2="345.5" stroke="#1c8c1c" stroke-width="3.5"/>
<polygon points="1670.3,345.5 1685.8,340.9 1683.94,345.5 1685.8,350.1" fill="#1c8c1c" stroke="none" stroke-width="1" />
<circle cx="1720.5" cy="345.5" r="9" fill="#ee1c1c" stroke="#c01010" stroke-width="0.8" />
<line x1="1715.3" y1="345.5" x2="1725.7" y2="345.5" stroke="#fff" stroke-width="1.8" />
<circle cx="1661.8" cy="345.5" r="9" fill="#1414e6" stroke="#0a0aa8" stroke-width="0.8" />
<line x1="1656.3" y1="345.5" x2="1667.3" y2="345.5" stroke="#fff" stroke-width="1.6" />
<line x1="1661.8" y1="340" x2="1661.8" y2="351" stroke="#fff" stroke-width="1.6" />
<text x="1695.3" y="336" font-family="&quot;Liberation Serif&quot;, serif" font-size="24" font-weight="bold" font-style="italic" fill="#111" text-anchor="middle">p<tspan font-weight="normal" font-size="22.8" dy="-5.28" dx="-1.5">′</tspan></text>
</g>
<line x1="865.6" y1="196" x2="865.6" y2="162.5" stroke="#000" stroke-width="2.4"/>
<polygon points="865.6,149 870,164 865.6,162.5 861.2,164" fill="#000" stroke="none" stroke-width="1" />
<line x1="865.6" y1="298.7" x2="865.6" y2="332.1" stroke="#000" stroke-width="2.4"/>
<polygon points="865.6,345.6 861.2,330.6 865.6,332.1 870,330.6" fill="#000" stroke="none" stroke-width="1" />
<text transform="translate(862,139) scale(1.12,1)" font-family="&quot;Liberation Serif&quot;, serif" font-size="26" font-weight="bold" font-style="italic" fill="#222" text-anchor="middle">σ</text>
<line x1="853.56" y1="122.88" x2="871.44" y2="122.88" stroke="#333" stroke-width="1.5" />
<text x="870.94" y="131.72" font-family="&quot;Liberation Serif&quot;, serif" font-size="22.1" fill="#222">′</text>
<text x="870.94" y="146.28" font-family="&quot;Liberation Serif&quot;, serif" font-size="20.8" font-style="italic" fill="#333">t</text>
<text transform="translate(862,363) scale(1.12,1)" font-family="&quot;Liberation Serif&quot;, serif" font-size="26" font-weight="bold" font-style="italic" fill="#222" text-anchor="middle">σ</text>
<line x1="853.56" y1="346.88" x2="871.44" y2="346.88" stroke="#333" stroke-width="1.5" />
<text x="870.94" y="355.72" font-family="&quot;Liberation Serif&quot;, serif" font-size="22.1" fill="#222">′</text>
<text x="870.94" y="370.28" font-family="&quot;Liberation Serif&quot;, serif" font-size="20.8" font-style="italic" fill="#333">t</text>
<line x1="929.7" y1="166.8" x2="1052.75" y2="127.14" stroke="#000" stroke-width="2.4" stroke-dasharray="6 4.5"/>
<polygon points="1065.6,123 1052.49,131.22 1052.75,127.14 1050.16,123.98" fill="#000" stroke="none" stroke-width="1" />
<line x1="929.7" y1="326.5" x2="1052.78" y2="367.26" stroke="#000" stroke-width="2.4" stroke-dasharray="6 4.5"/>
<polygon points="1065.6,371.5 1050.17,370.39 1052.78,367.26 1052.55,363.18" fill="#000" stroke="none" stroke-width="1" />
<text x="1009" y="171" font-family="&quot;Liberation Serif&quot;, serif" font-size="25.5" font-weight="normal" font-style="normal" fill="#444" text-anchor="middle" >+90°</text>
<text x="1009" y="340" font-family="&quot;Liberation Serif&quot;, serif" font-size="25.5" font-weight="normal" font-style="normal" fill="#444" text-anchor="middle" >−90°</text>
<line x1="1378" y1="109" x2="1378" y2="139.1" stroke="#000" stroke-width="2.4"/>
<polygon points="1378,152.6 1373.6,137.6 1378,139.1 1382.4,137.6" fill="#000" stroke="none" stroke-width="1" />
<line x1="1378" y1="370.7" x2="1378" y2="337.2" stroke="#000" stroke-width="2.4"/>
<polygon points="1378,323.7 1382.4,338.7 1378,337.2 1373.6,338.7" fill="#000" stroke="none" stroke-width="1" />
<text transform="translate(1373,100) scale(1.12,1)" font-family="&quot;Liberation Serif&quot;, serif" font-size="26" font-weight="bold" font-style="italic" fill="#222" text-anchor="middle">σ</text>
<line x1="1364.56" y1="83.88" x2="1382.44" y2="83.88" stroke="#333" stroke-width="1.5" />
<text x="1381.94" y="92.72" font-family="&quot;Liberation Serif&quot;, serif" font-size="22.1" fill="#222">′</text>
<text x="1381.94" y="107.28" font-family="&quot;Liberation Serif&quot;, serif" font-size="20.8" font-style="italic" fill="#333">c</text>
<text transform="translate(1373,395) scale(1.12,1)" font-family="&quot;Liberation Serif&quot;, serif" font-size="26" font-weight="bold" font-style="italic" fill="#222" text-anchor="middle">σ</text>
<line x1="1364.56" y1="378.88" x2="1382.44" y2="378.88" stroke="#333" stroke-width="1.5" />
<text x="1381.94" y="387.72" font-family="&quot;Liberation Serif&quot;, serif" font-size="22.1" fill="#222">′</text>
<text x="1381.94" y="402.28" font-family="&quot;Liberation Serif&quot;, serif" font-size="20.8" font-style="italic" fill="#333">c</text>
<line x1="1453.8" y1="125.8" x2="1569.27" y2="85" stroke="#000" stroke-width="2.4" stroke-dasharray="6 4.5"/>
<polygon points="1582,80.5 1569.12,89.08 1569.27,85 1566.59,81.91" fill="#000" stroke="none" stroke-width="1" />
<line x1="1453.8" y1="319.4" x2="1569.27" y2="360.11" stroke="#000" stroke-width="2.4" stroke-dasharray="6 4.5"/>
<polygon points="1582,364.6 1566.59,363.2 1569.27,360.11 1569.12,356.03" fill="#000" stroke="none" stroke-width="1" />
<text x="1523.3" y="135" font-family="&quot;Liberation Serif&quot;, serif" font-size="25.5" font-weight="normal" font-style="normal" fill="#444" text-anchor="middle" >+90°</text>
<text x="1523.3" y="332" font-family="&quot;Liberation Serif&quot;, serif" font-size="25.5" font-weight="normal" font-style="normal" fill="#444" text-anchor="middle" >−90°</text>
<text x="2.4" y="74.6" font-family="&quot;Liberation Serif&quot;, serif" font-size="58" font-weight="bold" font-style="normal" fill="#000" text-anchor="start" >(a)</text>
<text x="747.5" y="80" font-family="&quot;Liberation Serif&quot;, serif" font-size="56.5" font-weight="bold" font-style="normal" fill="#000" text-anchor="start" >(b)</text>
<rect x="136.2" y="507.4" width="324.6" height="384.6" fill="#b1fdb0"/>
<path d="M136.2,526.5 C138.07,527.5 143.45,530.25 147.4,532.5 C151.35,534.75 155.73,537.58 159.9,540 C164.07,542.42 168.23,544.6 172.4,547 C176.57,549.4 180.75,551.73 184.9,554.4 C189.05,557.07 193.15,559.78 197.3,563 C201.45,566.22 205.63,569.97 209.8,573.7 C213.97,577.43 218.55,581.37 222.3,585.4 C226.05,589.43 229.38,594.23 232.3,597.9 C235.22,601.57 237.72,604.28 239.8,607.4 C241.88,610.52 242.93,613.27 244.8,616.6 C246.67,619.93 248.92,623.33 251,627.4 C253.08,631.47 255.22,635.52 257.3,641 C259.38,646.48 261.42,652.58 263.5,660.3 C265.58,668.02 267.92,672.18 269.8,687.3 C271.68,702.42 273.63,726.88 274.8,751 C275.97,775.12 276.33,809.17 276.8,832 C277.27,854.83 277.47,878.67 277.6,888 L277.6,892 L136.2,892 Z" fill="#efc468"/>
<path d="M321.6,888 C321.75,883.33 321.93,870.5 322.5,860 C323.07,849.5 323.8,836.92 325,825 C326.2,813.08 327.33,801.33 329.7,788.5 C332.07,775.67 336.08,759.78 339.2,748 C342.32,736.22 345.4,726.47 348.4,717.8 C351.4,709.13 354.15,702.75 357.2,696 C360.25,689.25 363.58,682.92 366.7,677.3 C369.82,671.68 372.82,666.88 375.9,662.3 C378.98,657.72 382.17,653.53 385.2,649.8 C388.23,646.07 391.07,643.22 394.1,639.9 C397.13,636.58 400.4,632.95 403.4,629.9 C406.4,626.85 409.1,624.23 412.1,621.6 C415.1,618.97 418.35,616.6 421.4,614.1 C424.45,611.6 427.37,608.85 430.4,606.6 C433.43,604.35 436.53,602.55 439.6,600.6 C442.67,598.65 445.27,597.1 448.8,594.9 C452.33,592.7 458.8,588.65 460.8,587.4 L460.8,892 L321.6,892 Z" fill="#bcc4f9"/>
<line x1="277.3" y1="507.4" x2="277.3" y2="892" stroke="#2f8f45" stroke-width="1.5" stroke-dasharray="1.8 4.2"/>
<line x1="321.7" y1="507.4" x2="321.7" y2="892" stroke="#2f8f45" stroke-width="1.5" stroke-dasharray="1.8 4.2"/>
<path d="M136.2,567.4 L274.8,698 L278,703.5 L337.2,748.5 L452.5,839.5" fill="none" stroke="#111" stroke-width="2.7" stroke-dasharray="11.5 8"/>
<line x1="333.5" y1="555.4" x2="388.4" y2="555.4" stroke="#111" stroke-width="2.6" stroke-dasharray="13 8"/>
<path d="M136.2,526.5 C138.07,527.5 143.45,530.25 147.4,532.5 C151.35,534.75 155.73,537.58 159.9,540 C164.07,542.42 168.23,544.6 172.4,547 C176.57,549.4 180.75,551.73 184.9,554.4 C189.05,557.07 193.15,559.78 197.3,563 C201.45,566.22 205.63,569.97 209.8,573.7 C213.97,577.43 218.55,581.37 222.3,585.4 C226.05,589.43 229.38,594.23 232.3,597.9 C235.22,601.57 237.72,604.28 239.8,607.4 C241.88,610.52 242.93,613.27 244.8,616.6 C246.67,619.93 248.92,623.33 251,627.4 C253.08,631.47 255.22,635.52 257.3,641 C259.38,646.48 261.42,652.58 263.5,660.3 C265.58,668.02 267.92,672.18 269.8,687.3 C271.68,702.42 273.63,726.88 274.8,751 C275.97,775.12 276.33,809.17 276.8,832 C277.27,854.83 277.47,878.67 277.6,888" fill="none" stroke="#f01818" stroke-width="2.2" />
<path d="M277.6,888.3 L321.6,888.3" fill="none" stroke="#7a2cf0" stroke-width="2.1" />
<path d="M321.6,888 C321.75,883.33 321.93,870.5 322.5,860 C323.07,849.5 323.8,836.92 325,825 C326.2,813.08 327.33,801.33 329.7,788.5 C332.07,775.67 336.08,759.78 339.2,748 C342.32,736.22 345.4,726.47 348.4,717.8 C351.4,709.13 354.15,702.75 357.2,696 C360.25,689.25 363.58,682.92 366.7,677.3 C369.82,671.68 372.82,666.88 375.9,662.3 C378.98,657.72 382.17,653.53 385.2,649.8 C388.23,646.07 391.07,643.22 394.1,639.9 C397.13,636.58 400.4,632.95 403.4,629.9 C406.4,626.85 409.1,624.23 412.1,621.6 C415.1,618.97 418.35,616.6 421.4,614.1 C424.45,611.6 427.37,608.85 430.4,606.6 C433.43,604.35 436.53,602.55 439.6,600.6 C442.67,598.65 445.27,597.1 448.8,594.9 C452.33,592.7 458.8,588.65 460.8,587.4" fill="none" stroke="#7a2cf0" stroke-width="2.1" />
<clipPath id="cpc"><rect x="136.2" y="507.4" width="324.6" height="384.6"/></clipPath><g clip-path="url(#cpc)">
<circle cx="136.2" cy="526.5" r="2.9" fill="#fff" stroke="#f01818" stroke-width="1.5" />
<circle cx="142.27" cy="529.75" r="2.9" fill="#fff" stroke="#f01818" stroke-width="1.5" />
<circle cx="148.34" cy="533.06" r="2.9" fill="#fff" stroke="#f01818" stroke-width="1.5" />
<circle cx="154.41" cy="536.71" r="2.9" fill="#fff" stroke="#f01818" stroke-width="1.5" />
<circle cx="160.48" cy="540.32" r="2.9" fill="#fff" stroke="#f01818" stroke-width="1.5" />
<circle cx="166.55" cy="543.72" r="2.9" fill="#fff" stroke="#f01818" stroke-width="1.5" />
<circle cx="172.62" cy="547.13" r="2.9" fill="#fff" stroke="#f01818" stroke-width="1.5" />
<circle cx="178.69" cy="550.72" r="2.9" fill="#fff" stroke="#f01818" stroke-width="1.5" />
<circle cx="184.76" cy="554.32" r="2.9" fill="#fff" stroke="#f01818" stroke-width="1.5" />
<circle cx="190.83" cy="558.51" r="2.9" fill="#fff" stroke="#f01818" stroke-width="1.5" />
<circle cx="196.9" cy="562.72" r="2.9" fill="#fff" stroke="#f01818" stroke-width="1.5" />
<circle cx="202.97" cy="567.85" r="2.9" fill="#fff" stroke="#f01818" stroke-width="1.5" />
<circle cx="209.04" cy="573.05" r="2.9" fill="#fff" stroke="#f01818" stroke-width="1.5" />
<circle cx="215.11" cy="578.67" r="2.9" fill="#fff" stroke="#f01818" stroke-width="1.5" />
<circle cx="221.18" cy="584.35" r="2.9" fill="#fff" stroke="#f01818" stroke-width="1.5" />
<circle cx="227.25" cy="591.59" r="2.9" fill="#fff" stroke="#f01818" stroke-width="1.5" />
<circle cx="233.32" cy="599.19" r="2.9" fill="#fff" stroke="#f01818" stroke-width="1.5" />
<circle cx="239.39" cy="606.88" r="2.9" fill="#fff" stroke="#f01818" stroke-width="1.5" />
<circle cx="245.46" cy="617.75" r="2.9" fill="#fff" stroke="#f01818" stroke-width="1.5" />
<circle cx="251.53" cy="628.54" r="2.9" fill="#fff" stroke="#f01818" stroke-width="1.5" />
<circle cx="257.6" cy="641.93" r="2.9" fill="#fff" stroke="#f01818" stroke-width="1.5" />
<circle cx="263.67" cy="661.03" r="2.9" fill="#fff" stroke="#f01818" stroke-width="1.5" />
<circle cx="269.8" cy="687.3" r="2.9" fill="#fff" stroke="#f01818" stroke-width="1.5" />
<circle cx="275.3" cy="749.8" r="2.9" fill="#fff" stroke="#f01818" stroke-width="1.5" />
<polygon points="277.8,883.55 274.8,889.25 280.8,889.25" fill="#fff" stroke="#7a2cf0" stroke-width="1.2" />
<polygon points="329.7,785.05 326.7,790.75 332.7,790.75" fill="#fff" stroke="#7a2cf0" stroke-width="1.2" />
<polygon points="338.86,746 335.86,751.7 341.86,751.7" fill="#fff" stroke="#7a2cf0" stroke-width="1.2" />
<polygon points="348.02,715.6 345.02,721.3 351.02,721.3" fill="#fff" stroke="#7a2cf0" stroke-width="1.2" />
<polygon points="357.18,692.6 354.18,698.3 360.18,698.3" fill="#fff" stroke="#7a2cf0" stroke-width="1.2" />
<polygon points="366.34,674.56 363.34,680.26 369.34,680.26" fill="#fff" stroke="#7a2cf0" stroke-width="1.2" />
<polygon points="375.5,659.5 372.5,665.2 378.5,665.2" fill="#fff" stroke="#7a2cf0" stroke-width="1.2" />
<polygon points="384.66,647.08 381.66,652.78 387.66,652.78" fill="#fff" stroke="#7a2cf0" stroke-width="1.2" />
<polygon points="393.82,636.76 390.82,642.46 396.82,642.46" fill="#fff" stroke="#7a2cf0" stroke-width="1.2" />
<polygon points="402.98,626.9 399.98,632.6 405.98,632.6" fill="#fff" stroke="#7a2cf0" stroke-width="1.2" />
<polygon points="412.14,618.12 409.14,623.82 415.14,623.82" fill="#fff" stroke="#7a2cf0" stroke-width="1.2" />
<polygon points="421.3,610.73 418.3,616.43 424.3,616.43" fill="#fff" stroke="#7a2cf0" stroke-width="1.2" />
<polygon points="430.46,603.11 427.46,608.81 433.46,608.81" fill="#fff" stroke="#7a2cf0" stroke-width="1.2" />
<polygon points="439.62,597.14 436.62,602.84 442.62,602.84" fill="#fff" stroke="#7a2cf0" stroke-width="1.2" />
<polygon points="448.78,591.46 445.78,597.16 451.78,597.16" fill="#fff" stroke="#7a2cf0" stroke-width="1.2" />
<polygon points="457.94,585.74 454.94,591.44 460.94,591.44" fill="#fff" stroke="#7a2cf0" stroke-width="1.2" />
</g>
<rect x="136.2" y="507.4" width="324.6" height="384.6" fill="none" stroke="#0a1a0a" stroke-width="2.4"/>
<line x1="152.43" y1="507.4" x2="152.43" y2="513.9" stroke="#0a1a0a" stroke-width="2.2" />
<line x1="152.43" y1="892" x2="152.43" y2="885.5" stroke="#0a1a0a" stroke-width="2.2" />
<line x1="168.66" y1="507.4" x2="168.66" y2="519.4" stroke="#0a1a0a" stroke-width="2.2" />
<line x1="168.66" y1="892" x2="168.66" y2="880" stroke="#0a1a0a" stroke-width="2.2" />
<line x1="184.89" y1="507.4" x2="184.89" y2="513.9" stroke="#0a1a0a" stroke-width="2.2" />
<line x1="184.89" y1="892" x2="184.89" y2="885.5" stroke="#0a1a0a" stroke-width="2.2" />
<line x1="201.12" y1="507.4" x2="201.12" y2="519.4" stroke="#0a1a0a" stroke-width="2.2" />
<line x1="201.12" y1="892" x2="201.12" y2="880" stroke="#0a1a0a" stroke-width="2.2" />
<line x1="217.35" y1="507.4" x2="217.35" y2="513.9" stroke="#0a1a0a" stroke-width="2.2" />
<line x1="217.35" y1="892" x2="217.35" y2="885.5" stroke="#0a1a0a" stroke-width="2.2" />
<line x1="233.58" y1="507.4" x2="233.58" y2="519.4" stroke="#0a1a0a" stroke-width="2.2" />
<line x1="233.58" y1="892" x2="233.58" y2="880" stroke="#0a1a0a" stroke-width="2.2" />
<line x1="249.81" y1="507.4" x2="249.81" y2="513.9" stroke="#0a1a0a" stroke-width="2.2" />
<line x1="249.81" y1="892" x2="249.81" y2="885.5" stroke="#0a1a0a" stroke-width="2.2" />
<line x1="266.04" y1="507.4" x2="266.04" y2="519.4" stroke="#0a1a0a" stroke-width="2.2" />
<line x1="266.04" y1="892" x2="266.04" y2="880" stroke="#0a1a0a" stroke-width="2.2" />
<line x1="282.27" y1="507.4" x2="282.27" y2="513.9" stroke="#0a1a0a" stroke-width="2.2" />
<line x1="282.27" y1="892" x2="282.27" y2="885.5" stroke="#0a1a0a" stroke-width="2.2" />
<line x1="298.5" y1="507.4" x2="298.5" y2="519.4" stroke="#0a1a0a" stroke-width="2.2" />
<line x1="298.5" y1="892" x2="298.5" y2="880" stroke="#0a1a0a" stroke-width="2.2" />
<line x1="314.73" y1="507.4" x2="314.73" y2="513.9" stroke="#0a1a0a" stroke-width="2.2" />
<line x1="314.73" y1="892" x2="314.73" y2="885.5" stroke="#0a1a0a" stroke-width="2.2" />
<line x1="330.96" y1="507.4" x2="330.96" y2="519.4" stroke="#0a1a0a" stroke-width="2.2" />
<line x1="330.96" y1="892" x2="330.96" y2="880" stroke="#0a1a0a" stroke-width="2.2" />
<line x1="347.19" y1="507.4" x2="347.19" y2="513.9" stroke="#0a1a0a" stroke-width="2.2" />
<line x1="347.19" y1="892" x2="347.19" y2="885.5" stroke="#0a1a0a" stroke-width="2.2" />
<line x1="363.42" y1="507.4" x2="363.42" y2="519.4" stroke="#0a1a0a" stroke-width="2.2" />
<line x1="363.42" y1="892" x2="363.42" y2="880" stroke="#0a1a0a" stroke-width="2.2" />
<line x1="379.65" y1="507.4" x2="379.65" y2="513.9" stroke="#0a1a0a" stroke-width="2.2" />
<line x1="379.65" y1="892" x2="379.65" y2="885.5" stroke="#0a1a0a" stroke-width="2.2" />
<line x1="395.88" y1="507.4" x2="395.88" y2="519.4" stroke="#0a1a0a" stroke-width="2.2" />
<line x1="395.88" y1="892" x2="395.88" y2="880" stroke="#0a1a0a" stroke-width="2.2" />
<line x1="412.11" y1="507.4" x2="412.11" y2="513.9" stroke="#0a1a0a" stroke-width="2.2" />
<line x1="412.11" y1="892" x2="412.11" y2="885.5" stroke="#0a1a0a" stroke-width="2.2" />
<line x1="428.34" y1="507.4" x2="428.34" y2="519.4" stroke="#0a1a0a" stroke-width="2.2" />
<line x1="428.34" y1="892" x2="428.34" y2="880" stroke="#0a1a0a" stroke-width="2.2" />
<line x1="444.57" y1="507.4" x2="444.57" y2="513.9" stroke="#0a1a0a" stroke-width="2.2" />
<line x1="444.57" y1="892" x2="444.57" y2="885.5" stroke="#0a1a0a" stroke-width="2.2" />
<line x1="136.2" y1="857.3" x2="148.2" y2="857.3" stroke="#0a1a0a" stroke-width="2.2" />
<line x1="136.2" y1="822.3" x2="143.2" y2="822.3" stroke="#0a1a0a" stroke-width="2.2" />
<line x1="136.2" y1="787.3" x2="148.2" y2="787.3" stroke="#0a1a0a" stroke-width="2.2" />
<line x1="136.2" y1="752.3" x2="143.2" y2="752.3" stroke="#0a1a0a" stroke-width="2.2" />
<line x1="136.2" y1="717.3" x2="148.2" y2="717.3" stroke="#0a1a0a" stroke-width="2.2" />
<line x1="136.2" y1="682.3" x2="143.2" y2="682.3" stroke="#0a1a0a" stroke-width="2.2" />
<line x1="136.2" y1="647.3" x2="148.2" y2="647.3" stroke="#0a1a0a" stroke-width="2.2" />
<line x1="136.2" y1="612.3" x2="143.2" y2="612.3" stroke="#0a1a0a" stroke-width="2.2" />
<line x1="136.2" y1="577.3" x2="148.2" y2="577.3" stroke="#0a1a0a" stroke-width="2.2" />
<line x1="136.2" y1="542.3" x2="143.2" y2="542.3" stroke="#0a1a0a" stroke-width="2.2" />
<line x1="460.8" y1="887.8" x2="446.8" y2="887.8" stroke="#0a1a0a" stroke-width="2.2" />
<line x1="460.8" y1="826.55" x2="453.8" y2="826.55" stroke="#0a1a0a" stroke-width="2.2" />
<line x1="460.8" y1="765.3" x2="446.8" y2="765.3" stroke="#0a1a0a" stroke-width="2.2" />
<line x1="460.8" y1="704.05" x2="453.8" y2="704.05" stroke="#0a1a0a" stroke-width="2.2" />
<line x1="460.8" y1="642.8" x2="446.8" y2="642.8" stroke="#0a1a0a" stroke-width="2.2" />
<line x1="460.8" y1="581.55" x2="453.8" y2="581.55" stroke="#0a1a0a" stroke-width="2.2" />
<line x1="460.8" y1="520.3" x2="446.8" y2="520.3" stroke="#0a1a0a" stroke-width="2.2" />
<text x="123.5" y="514.6" font-family="&quot;Liberation Serif&quot;, serif" font-size="23" font-weight="normal" font-style="normal" fill="#111" text-anchor="end" >0.03</text>
<text x="123.5" y="584.6" font-family="&quot;Liberation Serif&quot;, serif" font-size="23" font-weight="normal" font-style="normal" fill="#111" text-anchor="end" >0.02</text>
<text x="123.5" y="654.6" font-family="&quot;Liberation Serif&quot;, serif" font-size="23" font-weight="normal" font-style="normal" fill="#111" text-anchor="end" >0.01</text>
<text x="123.5" y="724.6" font-family="&quot;Liberation Serif&quot;, serif" font-size="23" font-weight="normal" font-style="normal" fill="#111" text-anchor="end" >0</text>
<text x="123.5" y="794.6" font-family="&quot;Liberation Serif&quot;, serif" font-size="23" font-weight="normal" font-style="normal" fill="#111" text-anchor="end" >-0.01</text>
<text x="123.5" y="864.6" font-family="&quot;Liberation Serif&quot;, serif" font-size="23" font-weight="normal" font-style="normal" fill="#111" text-anchor="end" >-0.02</text>
<text x="466.5" y="527.6" font-family="&quot;Liberation Serif&quot;, serif" font-size="23" font-weight="normal" font-style="normal" fill="#111" text-anchor="start" >0.3</text>
<text x="466.5" y="650.1" font-family="&quot;Liberation Serif&quot;, serif" font-size="23" font-weight="normal" font-style="normal" fill="#111" text-anchor="start" >0.2</text>
<text x="466.5" y="772.6" font-family="&quot;Liberation Serif&quot;, serif" font-size="23" font-weight="normal" font-style="normal" fill="#111" text-anchor="start" >0.1</text>
<text x="466.5" y="895.1" font-family="&quot;Liberation Serif&quot;, serif" font-size="23" font-weight="normal" font-style="normal" fill="#111" text-anchor="start" >0</text>
<text x="137.2" y="923.8" font-family="&quot;Liberation Serif&quot;, serif" font-size="23" font-weight="normal" font-style="normal" fill="#111" text-anchor="middle" >-10</text>
<text x="168.66" y="923.8" font-family="&quot;Liberation Serif&quot;, serif" font-size="23" font-weight="normal" font-style="normal" fill="#111" text-anchor="middle" >-8</text>
<text x="201.12" y="923.8" font-family="&quot;Liberation Serif&quot;, serif" font-size="23" font-weight="normal" font-style="normal" fill="#111" text-anchor="middle" >-6</text>
<text x="233.58" y="923.8" font-family="&quot;Liberation Serif&quot;, serif" font-size="23" font-weight="normal" font-style="normal" fill="#111" text-anchor="middle" >-4</text>
<text x="266.04" y="923.8" font-family="&quot;Liberation Serif&quot;, serif" font-size="23" font-weight="normal" font-style="normal" fill="#111" text-anchor="middle" >-2</text>
<text x="298.5" y="923.8" font-family="&quot;Liberation Serif&quot;, serif" font-size="23" font-weight="normal" font-style="normal" fill="#111" text-anchor="middle" >0</text>
<text x="330.96" y="923.8" font-family="&quot;Liberation Serif&quot;, serif" font-size="23" font-weight="normal" font-style="normal" fill="#111" text-anchor="middle" >2</text>
<text x="363.42" y="923.8" font-family="&quot;Liberation Serif&quot;, serif" font-size="23" font-weight="normal" font-style="normal" fill="#111" text-anchor="middle" >4</text>
<text x="395.88" y="923.8" font-family="&quot;Liberation Serif&quot;, serif" font-size="23" font-weight="normal" font-style="normal" fill="#111" text-anchor="middle" >6</text>
<text x="428.34" y="923.8" font-family="&quot;Liberation Serif&quot;, serif" font-size="23" font-weight="normal" font-style="normal" fill="#111" text-anchor="middle" >8</text>
<text x="459.3" y="923.8" font-family="&quot;Liberation Serif&quot;, serif" font-size="23" font-weight="normal" font-style="normal" fill="#111" text-anchor="middle" >10</text>
<text x="207.2" y="956.7" font-family="&quot;Liberation Serif&quot;, serif" font-size="23.5" fill="#111">Misfit strain<tspan x="338.7" font-style="italic">u</tspan><tspan font-style="italic" font-size="14" dy="6" dx="1">m</tspan><tspan dy="-6" dx="1">,</tspan><tspan dx="5">10</tspan><tspan font-size="14" dy="-10" dx="1">-3</tspan></text>
<text transform="translate(73.5,695) rotate(-90)" font-family="&quot;Liberation Serif&quot;, serif" font-size="23" fill="#111" text-anchor="middle"><tspan font-style="italic">c</tspan>/<tspan font-style="italic">a</tspan>-1</text>
<text transform="translate(521,710) rotate(-90)" font-family="&quot;Liberation Serif&quot;, serif" font-size="23" fill="#111" text-anchor="middle">Polarization <tspan font-style="italic">p</tspan>, C/m<tspan font-size="14" dy="-9">-2</tspan></text>
<text x="162" y="740" font-family="&quot;Liberation Serif&quot;, serif" font-size="23.5" fill="#222"><tspan font-style="italic">c</tspan>-phase</text>
<text x="356" y="741.5" font-family="&quot;Liberation Serif&quot;, serif" font-size="23.5" fill="#222"><tspan font-style="italic">aa</tspan>-phase</text>
<text transform="translate(308,797) rotate(-90)" font-family="&quot;Liberation Serif&quot;, serif" font-size="23.5" fill="#112211" text-anchor="middle">0-phase</text>
<text x="396" y="563" font-family="&quot;Liberation Serif&quot;, serif" font-size="23.5" fill="#112211"><tspan font-style="italic">c</tspan>/<tspan font-style="italic">a</tspan>-1</text>
<line x1="156" y1="804.7" x2="211.4" y2="804.7" stroke="#f01818" stroke-width="1.8" />
<circle cx="184" cy="804.7" r="2.6" fill="#fff" stroke="#f01818" stroke-width="1.3" />
<line x1="156" y1="841.6" x2="211.4" y2="841.6" stroke="#7a2cf0" stroke-width="1.8" />
<polygon points="184,838.15 181,843.85 187,843.85" fill="#fff" stroke="#7a2cf0" stroke-width="1.2" />
<text x="217" y="815.5" font-family="&quot;Liberation Serif&quot;, serif" font-size="25" font-style="italic" fill="#222">p<tspan font-size="14" dy="6">z</tspan></text>
<text x="217" y="852.5" font-family="&quot;Liberation Serif&quot;, serif" font-size="25" font-style="italic" fill="#222">p<tspan font-size="14" dy="6">x</tspan><tspan dy="-6" font-style="normal" dx="-1">=</tspan><tspan dx="-1">p</tspan><tspan font-size="14" dy="6">y</tspan></text>
<text x="3" y="535" font-family="&quot;Liberation Serif&quot;, serif" font-size="58" font-weight="bold" font-style="normal" fill="#000" text-anchor="start" >(c)</text>
<rect x="647.2" y="510.9" width="376.9" height="382.3" fill="#b1fdb0"/>
<path d="M746,510.9 C746.75,514.92 748.8,526.3 750.5,535 C752.2,543.7 754.37,555.1 756.2,563.1 C758.03,571.1 759.6,576.18 761.5,583 C763.4,589.82 765.68,597.5 767.6,604 C769.52,610.5 771.12,615.95 773,622 C774.88,628.05 776.98,634.72 778.9,640.3 C780.82,645.88 782.6,650.58 784.5,655.5 C786.4,660.42 788.55,665.55 790.3,669.8 C792.05,674.05 793.5,677.6 795,681 C796.5,684.4 797.88,687.45 799.3,690.2 C800.72,692.95 802.17,695.48 803.5,697.5 C804.83,699.52 807.3,700.7 807.3,702.3 C807.3,703.9 804.83,705.08 803.5,707.1 C802.17,709.12 800.72,711.65 799.3,714.4 C797.88,717.15 796.5,720.2 795,723.6 C793.5,727 792.05,730.55 790.3,734.8 C788.55,739.05 786.4,744.18 784.5,749.1 C782.6,754.02 780.82,758.72 778.9,764.3 C776.98,769.88 774.88,776.55 773,782.6 C771.12,788.65 769.52,794.1 767.6,800.6 C765.68,807.1 763.4,814.78 761.5,821.6 C759.6,828.42 758.03,833.5 756.2,841.5 C754.37,849.5 752.2,860.9 750.5,869.6 C748.8,878.3 746.75,889.68 746,893.7 L647.2,893.2 L647.2,510.9 Z" fill="#f3d390"/>
<path d="M951.4,510.9 C950.25,515.25 946.77,528.3 944.5,537 C942.23,545.7 939.88,555.27 937.8,563.1 C935.72,570.93 933.88,577.18 932,584 C930.12,590.82 928.33,597.5 926.5,604 C924.67,610.5 922.9,616.95 921,623 C919.1,629.05 917.02,635.05 915.1,640.3 C913.18,645.55 911.38,649.97 909.5,654.5 C907.62,659.03 905.63,663.58 903.8,667.5 C901.97,671.42 900.4,674.58 898.5,678 C896.6,681.42 894.82,684.92 892.4,688 C889.98,691.08 886.65,694.12 884,696.5 C881.35,698.88 876.5,700.37 876.5,702.3 C876.5,704.23 881.35,705.72 884,708.1 C886.65,710.48 889.98,713.52 892.4,716.6 C894.82,719.68 896.6,723.18 898.5,726.6 C900.4,730.02 901.97,733.18 903.8,737.1 C905.63,741.02 907.62,745.57 909.5,750.1 C911.38,754.63 913.18,759.05 915.1,764.3 C917.02,769.55 919.1,775.55 921,781.6 C922.9,787.65 924.67,794.1 926.5,800.6 C928.33,807.1 930.12,813.78 932,820.6 C933.88,827.42 935.72,833.67 937.8,841.5 C939.88,849.33 942.23,858.9 944.5,867.6 C946.77,876.3 950.25,889.35 951.4,893.7 L1024.1,893.2 L1024.1,510.9 Z" fill="#bcc4f9"/>
<path d="M746,510.9 C746.75,514.92 748.8,526.3 750.5,535 C752.2,543.7 754.37,555.1 756.2,563.1 C758.03,571.1 759.6,576.18 761.5,583 C763.4,589.82 765.68,597.5 767.6,604 C769.52,610.5 771.12,615.95 773,622 C774.88,628.05 776.98,634.72 778.9,640.3 C780.82,645.88 782.6,650.58 784.5,655.5 C786.4,660.42 788.55,665.55 790.3,669.8 C792.05,674.05 793.5,677.6 795,681 C796.5,684.4 797.88,687.45 799.3,690.2 C800.72,692.95 802.17,695.48 803.5,697.5 C804.83,699.52 806.67,701.5 807.3,702.3" fill="none" stroke="#111" stroke-width="2.6" />
<path d="M807.3,702.3 C806.67,703.1 804.83,705.08 803.5,707.1 C802.17,709.12 800.72,711.65 799.3,714.4 C797.88,717.15 796.5,720.2 795,723.6 C793.5,727 792.05,730.55 790.3,734.8 C788.55,739.05 786.4,744.18 784.5,749.1 C782.6,754.02 780.82,758.72 778.9,764.3 C776.98,769.88 774.88,776.55 773,782.6 C771.12,788.65 769.52,794.1 767.6,800.6 C765.68,807.1 763.4,814.78 761.5,821.6 C759.6,828.42 758.03,833.5 756.2,841.5 C754.37,849.5 752.2,860.9 750.5,869.6 C748.8,878.3 746.75,889.68 746,893.7" fill="none" stroke="#111" stroke-width="2.6" />
<path d="M951.4,510.9 C950.25,515.25 946.77,528.3 944.5,537 C942.23,545.7 939.88,555.27 937.8,563.1 C935.72,570.93 933.88,577.18 932,584 C930.12,590.82 928.33,597.5 926.5,604 C924.67,610.5 922.9,616.95 921,623 C919.1,629.05 917.02,635.05 915.1,640.3 C913.18,645.55 911.38,649.97 909.5,654.5 C907.62,659.03 905.63,663.58 903.8,667.5 C901.97,671.42 900.4,674.58 898.5,678 C896.6,681.42 894.82,684.92 892.4,688 C889.98,691.08 886.65,694.12 884,696.5 C881.35,698.88 877.75,701.33 876.5,702.3" fill="none" stroke="#111" stroke-width="2.6" stroke-dasharray="14 6"/>
<path d="M951.4,893.7 C950.25,889.35 946.77,876.3 944.5,867.6 C942.23,858.9 939.88,849.33 937.8,841.5 C935.72,833.67 933.88,827.42 932,820.6 C930.12,813.78 928.33,807.1 926.5,800.6 C924.67,794.1 922.9,787.65 921,781.6 C919.1,775.55 917.02,769.55 915.1,764.3 C913.18,759.05 911.38,754.63 909.5,750.1 C907.62,745.57 905.63,741.02 903.8,737.1 C901.97,733.18 900.4,730.02 898.5,726.6 C896.6,723.18 894.82,719.68 892.4,716.6 C889.98,713.52 886.65,710.48 884,708.1 C881.35,705.72 877.75,703.27 876.5,702.3" fill="none" stroke="#111" stroke-width="2.6" stroke-dasharray="14 6"/>
<line x1="876.5" y1="702.3" x2="1024.1" y2="678.9" stroke="#111" stroke-width="2.1" stroke-dasharray="2.6 2.4"/>
<line x1="876.5" y1="702.3" x2="1024.1" y2="725.9" stroke="#111" stroke-width="2.1" stroke-dasharray="2.6 2.4"/>
<line x1="868" y1="702.3" x2="877" y2="702.3" stroke="#111" stroke-width="2" />
<circle cx="875.5" cy="702.3" r="2.2" fill="#bcd" stroke="#111" stroke-width="1.4" />
<circle cx="808" cy="702.3" r="4.6" fill="#fff" stroke="#16268e" stroke-width="2.2" />
<circle cx="865.6" cy="702.3" r="4.6" fill="#fff" stroke="#16268e" stroke-width="2.2" />
<rect x="647.2" y="510.9" width="376.9" height="382.3" fill="none" stroke="#0a0a0a" stroke-width="2.4"/>
<line x1="647.2" y1="874.38" x2="654.2" y2="874.38" stroke="#0a0a0a" stroke-width="2.2" />
<line x1="647.2" y1="855.26" x2="660.2" y2="855.26" stroke="#0a0a0a" stroke-width="2.2" />
<line x1="647.2" y1="836.14" x2="654.2" y2="836.14" stroke="#0a0a0a" stroke-width="2.2" />
<line x1="647.2" y1="817.02" x2="660.2" y2="817.02" stroke="#0a0a0a" stroke-width="2.2" />
<line x1="647.2" y1="797.9" x2="654.2" y2="797.9" stroke="#0a0a0a" stroke-width="2.2" />
<line x1="647.2" y1="778.78" x2="660.2" y2="778.78" stroke="#0a0a0a" stroke-width="2.2" />
<line x1="647.2" y1="759.66" x2="654.2" y2="759.66" stroke="#0a0a0a" stroke-width="2.2" />
<line x1="647.2" y1="740.54" x2="660.2" y2="740.54" stroke="#0a0a0a" stroke-width="2.2" />
<line x1="647.2" y1="721.42" x2="654.2" y2="721.42" stroke="#0a0a0a" stroke-width="2.2" />
<line x1="647.2" y1="702.3" x2="660.2" y2="702.3" stroke="#0a0a0a" stroke-width="2.2" />
<line x1="647.2" y1="683.18" x2="654.2" y2="683.18" stroke="#0a0a0a" stroke-width="2.2" />
<line x1="647.2" y1="664.06" x2="660.2" y2="664.06" stroke="#0a0a0a" stroke-width="2.2" />
<line x1="647.2" y1="644.94" x2="654.2" y2="644.94" stroke="#0a0a0a" stroke-width="2.2" />
<line x1="647.2" y1="625.82" x2="660.2" y2="625.82" stroke="#0a0a0a" stroke-width="2.2" />
<line x1="647.2" y1="606.7" x2="654.2" y2="606.7" stroke="#0a0a0a" stroke-width="2.2" />
<line x1="647.2" y1="587.58" x2="660.2" y2="587.58" stroke="#0a0a0a" stroke-width="2.2" />
<line x1="647.2" y1="568.46" x2="654.2" y2="568.46" stroke="#0a0a0a" stroke-width="2.2" />
<line x1="647.2" y1="549.34" x2="660.2" y2="549.34" stroke="#0a0a0a" stroke-width="2.2" />
<line x1="647.2" y1="530.22" x2="654.2" y2="530.22" stroke="#0a0a0a" stroke-width="2.2" />
<line x1="668.08" y1="893.2" x2="668.08" y2="881.2" stroke="#0a0a0a" stroke-width="2.2" />
<line x1="689.02" y1="893.2" x2="689.02" y2="886.7" stroke="#0a0a0a" stroke-width="2.2" />
<line x1="709.96" y1="893.2" x2="709.96" y2="881.2" stroke="#0a0a0a" stroke-width="2.2" />
<line x1="730.9" y1="893.2" x2="730.9" y2="886.7" stroke="#0a0a0a" stroke-width="2.2" />
<line x1="751.84" y1="893.2" x2="751.84" y2="881.2" stroke="#0a0a0a" stroke-width="2.2" />
<line x1="772.78" y1="893.2" x2="772.78" y2="886.7" stroke="#0a0a0a" stroke-width="2.2" />
<line x1="793.72" y1="893.2" x2="793.72" y2="881.2" stroke="#0a0a0a" stroke-width="2.2" />
<line x1="814.66" y1="893.2" x2="814.66" y2="886.7" stroke="#0a0a0a" stroke-width="2.2" />
<line x1="835.6" y1="893.2" x2="835.6" y2="881.2" stroke="#0a0a0a" stroke-width="2.2" />
<line x1="856.54" y1="893.2" x2="856.54" y2="886.7" stroke="#0a0a0a" stroke-width="2.2" />
<line x1="877.48" y1="893.2" x2="877.48" y2="881.2" stroke="#0a0a0a" stroke-width="2.2" />
<line x1="898.42" y1="893.2" x2="898.42" y2="886.7" stroke="#0a0a0a" stroke-width="2.2" />
<line x1="919.36" y1="893.2" x2="919.36" y2="881.2" stroke="#0a0a0a" stroke-width="2.2" />
<line x1="940.3" y1="893.2" x2="940.3" y2="886.7" stroke="#0a0a0a" stroke-width="2.2" />
<line x1="961.24" y1="893.2" x2="961.24" y2="881.2" stroke="#0a0a0a" stroke-width="2.2" />
<line x1="982.18" y1="893.2" x2="982.18" y2="886.7" stroke="#0a0a0a" stroke-width="2.2" />
<line x1="1003.12" y1="893.2" x2="1003.12" y2="881.2" stroke="#0a0a0a" stroke-width="2.2" />
<text x="634.5" y="901.1" font-family="&quot;Liberation Serif&quot;, serif" font-size="23" font-weight="normal" font-style="normal" fill="#111" text-anchor="end" >-10</text>
<text x="634.5" y="862.86" font-family="&quot;Liberation Serif&quot;, serif" font-size="23" font-weight="normal" font-style="normal" fill="#111" text-anchor="end" >-8</text>
<text x="634.5" y="824.62" font-family="&quot;Liberation Serif&quot;, serif" font-size="23" font-weight="normal" font-style="normal" fill="#111" text-anchor="end" >-6</text>
<text x="634.5" y="786.38" font-family="&quot;Liberation Serif&quot;, serif" font-size="23" font-weight="normal" font-style="normal" fill="#111" text-anchor="end" >-4</text>
<text x="634.5" y="748.14" font-family="&quot;Liberation Serif&quot;, serif" font-size="23" font-weight="normal" font-style="normal" fill="#111" text-anchor="end" >-2</text>
<text x="634.5" y="709.9" font-family="&quot;Liberation Serif&quot;, serif" font-size="23" font-weight="normal" font-style="normal" fill="#111" text-anchor="end" >0</text>
<text x="634.5" y="671.66" font-family="&quot;Liberation Serif&quot;, serif" font-size="23" font-weight="normal" font-style="normal" fill="#111" text-anchor="end" >2</text>
<text x="634.5" y="633.42" font-family="&quot;Liberation Serif&quot;, serif" font-size="23" font-weight="normal" font-style="normal" fill="#111" text-anchor="end" >4</text>
<text x="634.5" y="595.18" font-family="&quot;Liberation Serif&quot;, serif" font-size="23" font-weight="normal" font-style="normal" fill="#111" text-anchor="end" >6</text>
<text x="634.5" y="556.94" font-family="&quot;Liberation Serif&quot;, serif" font-size="23" font-weight="normal" font-style="normal" fill="#111" text-anchor="end" >8</text>
<text x="634.5" y="518.7" font-family="&quot;Liberation Serif&quot;, serif" font-size="23" font-weight="normal" font-style="normal" fill="#111" text-anchor="end" >10</text>
<text x="668.08" y="923.8" font-family="&quot;Liberation Serif&quot;, serif" font-size="23" font-weight="normal" font-style="normal" fill="#111" text-anchor="middle" >-8</text>
<text x="709.96" y="923.8" font-family="&quot;Liberation Serif&quot;, serif" font-size="23" font-weight="normal" font-style="normal" fill="#111" text-anchor="middle" >-6</text>
<text x="751.84" y="923.8" font-family="&quot;Liberation Serif&quot;, serif" font-size="23" font-weight="normal" font-style="normal" fill="#111" text-anchor="middle" >-4</text>
<text x="793.72" y="923.8" font-family="&quot;Liberation Serif&quot;, serif" font-size="23" font-weight="normal" font-style="normal" fill="#111" text-anchor="middle" >-2</text>
<text x="835.6" y="923.8" font-family="&quot;Liberation Serif&quot;, serif" font-size="23" font-weight="normal" font-style="normal" fill="#111" text-anchor="middle" >0</text>
<text x="877.48" y="923.8" font-family="&quot;Liberation Serif&quot;, serif" font-size="23" font-weight="normal" font-style="normal" fill="#111" text-anchor="middle" >2</text>
<text x="919.36" y="923.8" font-family="&quot;Liberation Serif&quot;, serif" font-size="23" font-weight="normal" font-style="normal" fill="#111" text-anchor="middle" >4</text>
<text x="961.24" y="923.8" font-family="&quot;Liberation Serif&quot;, serif" font-size="23" font-weight="normal" font-style="normal" fill="#111" text-anchor="middle" >6</text>
<text x="1003.12" y="923.8" font-family="&quot;Liberation Serif&quot;, serif" font-size="23" font-weight="normal" font-style="normal" fill="#111" text-anchor="middle" >8</text>
<text x="717.8" y="960" font-family="&quot;Liberation Serif&quot;, serif" font-size="23.5" fill="#111">Misfit strain<tspan x="841.3" font-style="italic">u</tspan><tspan font-style="italic" font-size="14" dy="6" dx="1">m</tspan><tspan dy="-6" dx="1">,</tspan><tspan dx="5">10</tspan><tspan font-size="14" dy="-10" dx="1">-3</tspan></text>
<text transform="translate(584.5,714.5) rotate(-90)" font-family="&quot;Liberation Serif&quot;, serif" font-size="23.9" fill="#111" text-anchor="middle">Electric field <tspan font-style="italic">E</tspan><tspan font-style="italic" font-size="14" dy="5">x</tspan><tspan dy="-5">, 10</tspan><tspan font-size="12" dy="-9">7</tspan><tspan dy="9">V/m</tspan></text>
<text x="674.5" y="709.5" font-family="&quot;Liberation Serif&quot;, serif" font-size="23.5" fill="#222"><tspan font-style="italic">c</tspan>-phase</text>
<text x="925.3" y="756" font-family="&quot;Liberation Serif&quot;, serif" font-size="23.5" fill="#222"><tspan font-style="italic">aa</tspan>-phase</text>
<text x="805" y="786.7" font-family="&quot;Liberation Serif&quot;, serif" font-size="23.5" fill="#112211">0-phase</text>
<text x="811.5" y="734.5" font-family="&quot;Liberation Serif&quot;, serif" font-size="23.5" fill="#112211">T<tspan font-size="14" dy="6">1</tspan></text>
<text x="852.5" y="734.5" font-family="&quot;Liberation Serif&quot;, serif" font-size="23.5" fill="#112211">T<tspan font-size="14" dy="6">2</tspan></text>
<text x="538" y="537.5" font-family="&quot;Liberation Serif&quot;, serif" font-size="56" font-weight="bold" font-style="normal" fill="#000" text-anchor="start" >(d)</text>
<path d="M1135.3,515 Q1125,545 1130.8,575 L1170.8,575 Q1160,562 1164,545 Q1172,528 1168.5,515 Z" fill="#7e0606" stroke="#151515" stroke-width="1" />
<path d="M1168.5,515 Q1172,528 1164,545 Q1160,562 1170.8,575 L1205,575 Q1196,545 1203,515 Z" fill="#b8764a" stroke="#151515" stroke-width="1" />
<path d="M1203,515 Q1196,545 1205,575 L1239.5,575 Q1236,545 1232,515 Z" fill="#fbe88e" stroke="#151515" stroke-width="1" />
<path d="M1232,515 Q1236,545 1239.5,575 L1274,575 L1260.5,515 Z" fill="#e9d066" stroke="#151515" stroke-width="1" />
<line x1="1115.4" y1="514.2" x2="1285" y2="514.2" stroke="#151515" stroke-width="2" />
<line x1="1119.8" y1="575.2" x2="1288.2" y2="575.2" stroke="#151515" stroke-width="2" />
<line x1="1148.5" y1="531" x2="1148.5" y2="552" stroke="#fffdf0" stroke-width="2.6"/>
<polygon points="1148.5,559 1144.9,552 1148.5,552 1152.1,552" fill="#fffdf0" stroke="none" stroke-width="1" />
<line x1="1197" y1="544.5" x2="1175" y2="544.5" stroke="#fffdf0" stroke-width="2.6"/>
<polygon points="1168,544.5 1175,540.9 1175,544.5 1175,548.1" fill="#fffdf0" stroke="none" stroke-width="1" />
<line x1="1216.5" y1="531" x2="1216.5" y2="558" stroke="#fffdf0" stroke-width="2.4" />
<line x1="1249" y1="531" x2="1257.5" y2="556" stroke="#fffdf0" stroke-width="2.2" />
<path d="M1324.8,515 Q1317,545 1319.3,575 L1462.2,575 L1448.9,515 Z" fill="#fbe88e" stroke="#151515" stroke-width="1" />
<line x1="1302" y1="514.2" x2="1480" y2="514.2" stroke="#151515" stroke-width="2" />
<line x1="1302" y1="575.2" x2="1480" y2="575.2" stroke="#151515" stroke-width="2" />
<line x1="1342.5" y1="531" x2="1342.5" y2="559" stroke="#fffdf5" stroke-width="2.4" />
<line x1="1371.5" y1="531" x2="1371.5" y2="559" stroke="#fffdf5" stroke-width="2.4" />
<line x1="1401" y1="531" x2="1401" y2="559" stroke="#fffdf5" stroke-width="2.4" />
<line x1="1432.5" y1="531" x2="1432.5" y2="559" stroke="#fffdf5" stroke-width="2.4" />
<rect x="1298.5" y="505.5" width="182.5" height="77.5" rx="9" ry="9" fill="none" stroke="#151515" stroke-width="2.1" stroke-dasharray="9 4.5"/>
<path d="M1509.8,515 Q1501,545 1504.3,575 L1648.3,575 L1635,515 Z" fill="#7e0606" stroke="#151515" stroke-width="1" />
<path d="M1584,515 Q1578,545 1585,575 L1605,575 Q1606,545 1599.6,515 Z" fill="#b8764a" stroke="none" stroke-width="0" />
<line x1="1489.9" y1="513.8" x2="1658.3" y2="513.8" stroke="#151515" stroke-width="2" />
<line x1="1492" y1="574.9" x2="1660.5" y2="574.9" stroke="#151515" stroke-width="2" />
<line x1="1542" y1="531" x2="1542" y2="553" stroke="#fffdf0" stroke-width="2.6"/>
<polygon points="1542,560 1538.4,553 1542,553 1545.6,553" fill="#fffdf0" stroke="none" stroke-width="1" />
<line x1="1620.6" y1="531" x2="1620.6" y2="553" stroke="#fffdf0" stroke-width="2.6"/>
<polygon points="1620.6,560 1617,553 1620.6,553 1624.2,553" fill="#fffdf0" stroke="none" stroke-width="1" />
<line x1="1582" y1="546.5" x2="1598.5" y2="539" stroke="#fffdf0" stroke-width="2.2" />
<path d="M1694.9,515 Q1686,545 1690.4,575 L1833.4,575 L1820.1,515 Z" fill="#7e0606" stroke="#151515" stroke-width="1" />
<line x1="1675" y1="513.8" x2="1843.4" y2="513.8" stroke="#151515" stroke-width="2" />
<line x1="1677" y1="574.9" x2="1843.4" y2="574.9" stroke="#151515" stroke-width="2" />
<line x1="1714.8" y1="531" x2="1714.8" y2="553" stroke="#fffdf0" stroke-width="2.6"/>
<polygon points="1714.8,560 1711.2,553 1714.8,553 1718.4,553" fill="#fffdf0" stroke="none" stroke-width="1" />
<line x1="1744.1" y1="531" x2="1744.1" y2="553" stroke="#fffdf0" stroke-width="2.6"/>
<polygon points="1744.1,560 1740.5,553 1744.1,553 1747.7,553" fill="#fffdf0" stroke="none" stroke-width="1" />
<line x1="1771.3" y1="531" x2="1771.3" y2="553" stroke="#fffdf0" stroke-width="2.6"/>
<polygon points="1771.3,560 1767.7,553 1771.3,553 1774.9,553" fill="#fffdf0" stroke="none" stroke-width="1" />
<line x1="1801.7" y1="531" x2="1801.7" y2="553" stroke="#fffdf0" stroke-width="2.6"/>
<polygon points="1801.7,560 1798.1,553 1801.7,553 1805.3,553" fill="#fffdf0" stroke="none" stroke-width="1" />
<polygon points="1276,541.1 1300.5,541.1 1300.5,537.3 1309.5,544.3 1300.5,551.3 1300.5,547.5 1276,547.5 1281,544.3" fill="#b4d2d8" stroke="#8fb0b8" stroke-width="1" />
<line x1="1281" y1="544.3" x2="1301.5" y2="544.3" stroke="#d8e8ec" stroke-width="1.2" />
<polygon points="1467.5,539.5 1491,539.5 1491,535.7 1500,542.7 1491,549.7 1491,545.9 1467.5,545.9 1472.5,542.7" fill="#b4d2d8" stroke="#8fb0b8" stroke-width="1" />
<line x1="1472.5" y1="542.7" x2="1492" y2="542.7" stroke="#d8e8ec" stroke-width="1.2" />
<polygon points="1648.5,538.5 1671.5,538.5 1671.5,534.7 1680.5,541.7 1671.5,548.7 1671.5,544.9 1648.5,544.9 1653.5,541.7" fill="#b4d2d8" stroke="#8fb0b8" stroke-width="1" />
<line x1="1653.5" y1="541.7" x2="1672.5" y2="541.7" stroke="#d8e8ec" stroke-width="1.2" />
<defs><clipPath id="cf"><rect x="1138" y="760.8" width="517" height="130.6"/></clipPath><clipPath id="cr"><polygon points="1655,760.8 1819,644.5 1819,775 1655,891.4"/></clipPath><clipPath id="ctop"><polygon points="1138,730.4 1304.5,616 1819,616 1655,730.8"/></clipPath></defs>
<rect x="1138" y="730.4" width="517" height="161" fill="#fff"/>
<g clip-path="url(#cf)">
<line x1="1046.3" y1="760.8" x2="1146" y2="891.4" stroke="#151515" stroke-width="1.7" />
<line x1="1063.3" y1="760.8" x2="1163" y2="891.4" stroke="#151515" stroke-width="1.7" />
<line x1="1081.3" y1="760.8" x2="1181" y2="891.4" stroke="#151515" stroke-width="1.7" />
<line x1="1100.3" y1="760.8" x2="1200" y2="891.4" stroke="#151515" stroke-width="1.7" />
<line x1="1118.3" y1="760.8" x2="1218" y2="891.4" stroke="#151515" stroke-width="1.7" />
<line x1="1137.3" y1="760.8" x2="1237" y2="891.4" stroke="#151515" stroke-width="1.7" />
<line x1="1156.3" y1="760.8" x2="1256" y2="891.4" stroke="#151515" stroke-width="1.7" />
<line x1="1175.3" y1="760.8" x2="1275" y2="891.4" stroke="#151515" stroke-width="1.7" />
<line x1="1195.3" y1="760.8" x2="1295" y2="891.4" stroke="#151515" stroke-width="1.7" />
<line x1="1215.3" y1="760.8" x2="1315" y2="891.4" stroke="#151515" stroke-width="1.7" />
<line x1="1236.3" y1="760.8" x2="1336" y2="891.4" stroke="#151515" stroke-width="1.7" />
<line x1="1258.3" y1="760.8" x2="1358" y2="891.4" stroke="#151515" stroke-width="1.7" />
<line x1="1280.3" y1="760.8" x2="1380" y2="891.4" stroke="#151515" stroke-width="1.7" />
<line x1="1304.3" y1="760.8" x2="1404" y2="891.4" stroke="#151515" stroke-width="1.7" />
<line x1="1328.3" y1="760.8" x2="1428" y2="891.4" stroke="#151515" stroke-width="1.7" />
<line x1="1352.3" y1="760.8" x2="1452" y2="891.4" stroke="#151515" stroke-width="1.7" />
<line x1="1375.3" y1="760.8" x2="1475" y2="891.4" stroke="#151515" stroke-width="1.7" />
<line x1="1399.3" y1="760.8" x2="1499" y2="891.4" stroke="#151515" stroke-width="1.7" />
<line x1="1424.3" y1="760.8" x2="1524" y2="891.4" stroke="#151515" stroke-width="1.7" />
<line x1="1449.3" y1="760.8" x2="1549" y2="891.4" stroke="#151515" stroke-width="1.7" />
<line x1="1474.3" y1="760.8" x2="1574" y2="891.4" stroke="#151515" stroke-width="1.7" />
<line x1="1500" y1="760.8" x2="1599.7" y2="891.4" stroke="#151515" stroke-width="1.7" />
<line x1="1525" y1="760.8" x2="1624.7" y2="891.4" stroke="#151515" stroke-width="1.7" />
<line x1="1550" y1="760.8" x2="1649.7" y2="891.4" stroke="#151515" stroke-width="1.7" />
<line x1="1575" y1="760.8" x2="1674.7" y2="891.4" stroke="#151515" stroke-width="1.7" />
<line x1="1600" y1="760.8" x2="1699.7" y2="891.4" stroke="#151515" stroke-width="1.7" />
<line x1="1625" y1="760.8" x2="1724.7" y2="891.4" stroke="#151515" stroke-width="1.7" />
<line x1="1646" y1="760.8" x2="1745.7" y2="891.4" stroke="#151515" stroke-width="1.7" />
<rect x="1142" y="770" width="92" height="26" fill="#fff" opacity="0.95"/>
<rect x="1598" y="838" width="32" height="24" fill="#fff" opacity="0.95"/>
</g>
<polygon points="1655,730.8 1819,616 1819,777 1655,891.4" fill="#fff"/>
<g clip-path="url(#cr)">
<line x1="1609.4" y1="642.7" x2="1531.4" y2="902.7" stroke="#151515" stroke-width="1.6" />
<line x1="1620.95" y1="642.7" x2="1542.95" y2="902.7" stroke="#151515" stroke-width="1.6" />
<line x1="1632.5" y1="642.7" x2="1554.5" y2="902.7" stroke="#151515" stroke-width="1.6" />
<line x1="1644.05" y1="642.7" x2="1566.05" y2="902.7" stroke="#151515" stroke-width="1.6" />
<line x1="1655.6" y1="642.7" x2="1577.6" y2="902.7" stroke="#151515" stroke-width="1.6" />
<line x1="1667.15" y1="642.7" x2="1589.15" y2="902.7" stroke="#151515" stroke-width="1.6" />
<line x1="1678.7" y1="642.7" x2="1600.7" y2="902.7" stroke="#151515" stroke-width="1.6" />
<line x1="1690.25" y1="642.7" x2="1612.25" y2="902.7" stroke="#151515" stroke-width="1.6" />
<line x1="1701.8" y1="642.7" x2="1623.8" y2="902.7" stroke="#151515" stroke-width="1.6" />
<line x1="1713.35" y1="642.7" x2="1635.35" y2="902.7" stroke="#151515" stroke-width="1.6" />
<line x1="1724.9" y1="642.7" x2="1646.9" y2="902.7" stroke="#151515" stroke-width="1.6" />
<line x1="1736.45" y1="642.7" x2="1658.45" y2="902.7" stroke="#151515" stroke-width="1.6" />
<line x1="1748" y1="642.7" x2="1670" y2="902.7" stroke="#151515" stroke-width="1.6" />
<line x1="1759.55" y1="642.7" x2="1681.55" y2="902.7" stroke="#151515" stroke-width="1.6" />
<line x1="1771.1" y1="642.7" x2="1693.1" y2="902.7" stroke="#151515" stroke-width="1.6" />
<line x1="1782.65" y1="642.7" x2="1704.65" y2="902.7" stroke="#151515" stroke-width="1.6" />
<line x1="1794.2" y1="642.7" x2="1716.2" y2="902.7" stroke="#151515" stroke-width="1.6" />
<line x1="1805.75" y1="642.7" x2="1727.75" y2="902.7" stroke="#151515" stroke-width="1.6" />
<line x1="1817.3" y1="642.7" x2="1739.3" y2="902.7" stroke="#151515" stroke-width="1.6" />
<line x1="1828.85" y1="642.7" x2="1750.85" y2="902.7" stroke="#151515" stroke-width="1.6" />
<line x1="1840.4" y1="642.7" x2="1762.4" y2="902.7" stroke="#151515" stroke-width="1.6" />
<line x1="1851.95" y1="642.7" x2="1773.95" y2="902.7" stroke="#151515" stroke-width="1.6" />
<line x1="1863.5" y1="642.7" x2="1785.5" y2="902.7" stroke="#151515" stroke-width="1.6" />
<line x1="1875.05" y1="642.7" x2="1797.05" y2="902.7" stroke="#151515" stroke-width="1.6" />
</g>
<path d="M1138,730.4 L1138,891.4 L1655,891.4 L1819,775 L1819,616 L1304.5,616 Z" fill="none" stroke="#151515" stroke-width="2.2" stroke-linejoin="miter"/>
<line x1="1138" y1="730.4" x2="1655" y2="730.8" stroke="#151515" stroke-width="2.2" />
<line x1="1138" y1="760.8" x2="1655" y2="760.8" stroke="#151515" stroke-width="2.2" />
<line x1="1655" y1="730.8" x2="1655" y2="891.4" stroke="#151515" stroke-width="2.2" />
<line x1="1655" y1="730.8" x2="1819" y2="616" stroke="#151515" stroke-width="2.2" />
<line x1="1655" y1="760.8" x2="1819" y2="644.5" stroke="#151515" stroke-width="2.2" />
<polygon points="1138,730.4 1304.5,616 1819,616 1655,730.8" fill="#fff"/>
<g clip-path="url(#ctop)">
<polygon points="1388,633 1422,625.5 1450,621 1480,621.5 1554,638 1568,696 1500,720 1420,720 1374,672" fill="#fbe48a" stroke="none" stroke-width="1" />
<line x1="1265" y1="662" x2="1322" y2="626" stroke="#151515" stroke-width="1.1" />
<line x1="1283" y1="678" x2="1345" y2="632" stroke="#151515" stroke-width="1.1" />
<line x1="1308" y1="684" x2="1370" y2="636" stroke="#151515" stroke-width="1.1" />
<line x1="1197" y1="692" x2="1253" y2="728" stroke="#151515" stroke-width="1.1" />
<line x1="1228" y1="672" x2="1268" y2="706" stroke="#151515" stroke-width="1.1" />
<line x1="1180" y1="700" x2="1180" y2="731" stroke="#151515" stroke-width="1.1" />
<line x1="1290" y1="731" x2="1312" y2="688" stroke="#151515" stroke-width="1.1" />
<line x1="1312" y1="731" x2="1342" y2="684" stroke="#151515" stroke-width="1.1" />
<line x1="1352" y1="731" x2="1378" y2="688" stroke="#151515" stroke-width="1.1" />
<line x1="1573" y1="629" x2="1664" y2="629" stroke="#151515" stroke-width="1.1" />
<line x1="1562" y1="642" x2="1660" y2="665" stroke="#151515" stroke-width="1.1" />
<line x1="1568" y1="670" x2="1648" y2="690" stroke="#151515" stroke-width="1.1" />
<line x1="1683" y1="618" x2="1690" y2="650" stroke="#151515" stroke-width="1.1" />
<line x1="1704" y1="618" x2="1720" y2="662" stroke="#151515" stroke-width="1.1" />
<line x1="1730" y1="618" x2="1746" y2="664" stroke="#151515" stroke-width="1.1" />
<line x1="1770" y1="618" x2="1778" y2="642" stroke="#151515" stroke-width="1.1" />
<line x1="1676" y1="660" x2="1690" y2="702" stroke="#151515" stroke-width="1.1" />
<line x1="1657" y1="700" x2="1672" y2="712" stroke="#151515" stroke-width="1.1" />
<line x1="1535" y1="712" x2="1550" y2="728" stroke="#151515" stroke-width="1.1" />
<line x1="1562" y1="708" x2="1576" y2="728" stroke="#151515" stroke-width="1.1" />
<line x1="1588" y1="710" x2="1602" y2="730" stroke="#151515" stroke-width="1.1" />
<line x1="1536" y1="618" x2="1540" y2="634" stroke="#151515" stroke-width="1.1" />
<line x1="1547" y1="618" x2="1549" y2="632" stroke="#151515" stroke-width="1.1" />
<path d="M1304.5,617.5 L1382,631 L1450,621 L1480,621.5 L1554,638 L1580,617" fill="none" stroke="#151515" stroke-width="5.2" stroke-linejoin="round"/>
<path d="M1382,631 L1388,633 L1374,672 L1420,720 L1420,732" fill="none" stroke="#151515" stroke-width="5.2" stroke-linejoin="round"/>
<path d="M1374,672 L1366,674 L1284,688 L1244,660" fill="none" stroke="#151515" stroke-width="5.2" stroke-linejoin="round"/>
<path d="M1284,688 L1256,731" fill="none" stroke="#151515" stroke-width="5.2" stroke-linejoin="round"/>
<path d="M1420,720 L1500,720 L1568,696 L1554,638" fill="none" stroke="#151515" stroke-width="5.2" stroke-linejoin="round"/>
<path d="M1500,720 L1508,732" fill="none" stroke="#151515" stroke-width="5.2" stroke-linejoin="round"/>
<path d="M1568,696 L1636,711 L1676,658 L1666,616" fill="none" stroke="#151515" stroke-width="5.2" stroke-linejoin="round"/>
<path d="M1676,658 L1738,672" fill="none" stroke="#151515" stroke-width="5.2" stroke-linejoin="round"/>
<path d="M1636,711 L1658,730" fill="none" stroke="#151515" stroke-width="5.2" stroke-linejoin="round"/>
<path d="M1450,621 L1458,616" fill="none" stroke="#151515" stroke-width="5.2" stroke-linejoin="round"/>
<path d="M1304.5,617.5 L1382,631 L1450,621 L1480,621.5 L1554,638 L1580,617" fill="none" stroke="#fff" stroke-width="2.6" stroke-linejoin="round"/>
<path d="M1382,631 L1388,633 L1374,672 L1420,720 L1420,732" fill="none" stroke="#fff" stroke-width="2.6" stroke-linejoin="round"/>
<path d="M1374,672 L1366,674 L1284,688 L1244,660" fill="none" stroke="#fff" stroke-width="2.6" stroke-linejoin="round"/>
<path d="M1284,688 L1256,731" fill="none" stroke="#fff" stroke-width="2.6" stroke-linejoin="round"/>
<path d="M1420,720 L1500,720 L1568,696 L1554,638" fill="none" stroke="#fff" stroke-width="2.6" stroke-linejoin="round"/>
<path d="M1500,720 L1508,732" fill="none" stroke="#fff" stroke-width="2.6" stroke-linejoin="round"/>
<path d="M1568,696 L1636,711 L1676,658 L1666,616" fill="none" stroke="#fff" stroke-width="2.6" stroke-linejoin="round"/>
<path d="M1676,658 L1738,672" fill="none" stroke="#fff" stroke-width="2.6" stroke-linejoin="round"/>
<path d="M1636,711 L1658,730" fill="none" stroke="#fff" stroke-width="2.6" stroke-linejoin="round"/>
<path d="M1450,621 L1458,616" fill="none" stroke="#fff" stroke-width="2.6" stroke-linejoin="round"/>
<circle cx="1327" cy="655" r="8.2" fill="#fff" stroke="#151515" stroke-width="1.5" />
<line x1="1321.42" y1="650.82" x2="1332.58" y2="659.18" stroke="#151515" stroke-width="1.3" />
<line x1="1321.42" y1="659.18" x2="1332.58" y2="650.82" stroke="#151515" stroke-width="1.3" />
<circle cx="1222.4" cy="692" r="8.2" fill="#fff" stroke="#151515" stroke-width="1.5" />
<line x1="1216.82" y1="687.82" x2="1227.98" y2="696.18" stroke="#151515" stroke-width="1.3" />
<line x1="1216.82" y1="696.18" x2="1227.98" y2="687.82" stroke="#151515" stroke-width="1.3" />
<circle cx="1314" cy="709.6" r="8.2" fill="#fff" stroke="#151515" stroke-width="1.5" />
<line x1="1308.42" y1="705.42" x2="1319.58" y2="713.78" stroke="#151515" stroke-width="1.3" />
<line x1="1308.42" y1="713.78" x2="1319.58" y2="705.42" stroke="#151515" stroke-width="1.3" />
<circle cx="1588" cy="662.4" r="8.2" fill="#fff" stroke="#151515" stroke-width="1.5" />
<line x1="1582.42" y1="658.22" x2="1593.58" y2="666.58" stroke="#151515" stroke-width="1.3" />
<line x1="1582.42" y1="666.58" x2="1593.58" y2="658.22" stroke="#151515" stroke-width="1.3" />
<circle cx="1623.4" cy="670" r="8.2" fill="#fff" stroke="#151515" stroke-width="1.5" />
<line x1="1617.82" y1="665.82" x2="1628.98" y2="674.18" stroke="#151515" stroke-width="1.3" />
<line x1="1617.82" y1="674.18" x2="1628.98" y2="665.82" stroke="#151515" stroke-width="1.3" />
<circle cx="1675" cy="692" r="8.2" fill="#fff" stroke="#151515" stroke-width="1.5" />
<line x1="1669.42" y1="687.82" x2="1680.58" y2="696.18" stroke="#151515" stroke-width="1.3" />
<line x1="1669.42" y1="696.18" x2="1680.58" y2="687.82" stroke="#151515" stroke-width="1.3" />
<circle cx="1698" cy="679.6" r="8.2" fill="#fff" stroke="#151515" stroke-width="1.5" />
<line x1="1692.42" y1="675.42" x2="1703.58" y2="683.78" stroke="#151515" stroke-width="1.3" />
<line x1="1692.42" y1="683.78" x2="1703.58" y2="675.42" stroke="#151515" stroke-width="1.3" />
<circle cx="1756" cy="638" r="8.2" fill="#fff" stroke="#151515" stroke-width="1.5" />
<line x1="1750.42" y1="633.82" x2="1761.58" y2="642.18" stroke="#151515" stroke-width="1.3" />
<line x1="1750.42" y1="642.18" x2="1761.58" y2="633.82" stroke="#151515" stroke-width="1.3" />
<circle cx="1356" cy="661.6" r="8.2" fill="#fff" stroke="#151515" stroke-width="1.5" />
<circle cx="1356" cy="661.6" r="1.9" fill="#151515" stroke="none" stroke-width="1" />
<circle cx="1205" cy="716" r="8.2" fill="#fff" stroke="#151515" stroke-width="1.5" />
<circle cx="1205" cy="716" r="1.9" fill="#151515" stroke="none" stroke-width="1" />
<circle cx="1245.6" cy="709.6" r="8.2" fill="#fff" stroke="#151515" stroke-width="1.5" />
<circle cx="1245.6" cy="709.6" r="1.9" fill="#151515" stroke="none" stroke-width="1" />
<circle cx="1344" cy="710" r="8.2" fill="#fff" stroke="#151515" stroke-width="1.5" />
<circle cx="1344" cy="710" r="1.9" fill="#151515" stroke="none" stroke-width="1" />
<circle cx="1376" cy="714.4" r="8.2" fill="#fff" stroke="#151515" stroke-width="1.5" />
<circle cx="1376" cy="714.4" r="1.9" fill="#151515" stroke="none" stroke-width="1" />
<circle cx="1605" cy="639.6" r="8.2" fill="#fff" stroke="#151515" stroke-width="1.5" />
<circle cx="1605" cy="639.6" r="1.9" fill="#151515" stroke="none" stroke-width="1" />
<circle cx="1637" cy="644" r="8.2" fill="#fff" stroke="#151515" stroke-width="1.5" />
<circle cx="1637" cy="644" r="1.9" fill="#151515" stroke="none" stroke-width="1" />
<circle cx="1554.4" cy="720.4" r="8.2" fill="#fff" stroke="#151515" stroke-width="1.5" />
<circle cx="1554.4" cy="720.4" r="1.9" fill="#151515" stroke="none" stroke-width="1" />
<circle cx="1399" cy="657.6" r="8.2" fill="#fff" stroke="#151515" stroke-width="1.5" />
<circle cx="1399" cy="657.6" r="1.9" fill="#151515" stroke="none" stroke-width="1" />
<circle cx="1432.6" cy="647" r="8.2" fill="#fff" stroke="#151515" stroke-width="1.5" />
<circle cx="1432.6" cy="647" r="1.9" fill="#151515" stroke="none" stroke-width="1" />
<circle cx="1482.6" cy="644" r="8.2" fill="#fff" stroke="#151515" stroke-width="1.5" />
<circle cx="1482.6" cy="644" r="1.9" fill="#151515" stroke="none" stroke-width="1" />
<circle cx="1464" cy="684" r="8.2" fill="#fff" stroke="#151515" stroke-width="1.5" />
<circle cx="1464" cy="684" r="1.9" fill="#151515" stroke="none" stroke-width="1" />
<circle cx="1438.6" cy="706.4" r="8.2" fill="#fff" stroke="#151515" stroke-width="1.5" />
<circle cx="1438.6" cy="706.4" r="1.9" fill="#151515" stroke="none" stroke-width="1" />
<circle cx="1526.4" cy="689.6" r="8.2" fill="#fff" stroke="#151515" stroke-width="1.5" />
<circle cx="1526.4" cy="689.6" r="1.9" fill="#151515" stroke="none" stroke-width="1" />
<circle cx="1493" cy="702.6" r="8.2" fill="#fff" stroke="#151515" stroke-width="1.5" />
<circle cx="1493" cy="702.6" r="1.9" fill="#151515" stroke="none" stroke-width="1" />
<line x1="1288" y1="633" x2="1304.5" y2="633" stroke="#151515" stroke-width="1.1"/>
<polygon points="1310,633 1304.5,635.2 1304.5,633 1304.5,630.8" fill="#151515" stroke="none" stroke-width="1" />
<line x1="1305" y1="656" x2="1305.58" y2="648.48" stroke="#151515" stroke-width="1.1"/>
<polygon points="1306,643 1307.77,648.65 1305.58,648.48 1303.38,648.32" fill="#151515" stroke="none" stroke-width="1" />
<line x1="1264" y1="650" x2="1262.73" y2="652.22" stroke="#151515" stroke-width="1.1"/>
<polygon points="1260,657 1260.82,651.13 1262.73,652.22 1264.64,653.32" fill="#151515" stroke="none" stroke-width="1" />
<line x1="1238" y1="671" x2="1247.89" y2="674.96" stroke="#151515" stroke-width="1.1"/>
<polygon points="1253,677 1247.08,677 1247.89,674.96 1248.71,672.91" fill="#151515" stroke="none" stroke-width="1" />
<line x1="1267" y1="698" x2="1265.84" y2="690.44" stroke="#151515" stroke-width="1.1"/>
<polygon points="1265,685 1268.01,690.1 1265.84,690.44 1263.66,690.77" fill="#151515" stroke="none" stroke-width="1" />
<line x1="1171" y1="713" x2="1166.44" y2="718.71" stroke="#151515" stroke-width="1.1"/>
<polygon points="1163,723 1164.72,717.33 1166.44,718.71 1168.15,720.08" fill="#151515" stroke="none" stroke-width="1" />
<line x1="1290" y1="712" x2="1297.09" y2="700.66" stroke="#151515" stroke-width="1.1"/>
<polygon points="1300,696 1298.95,701.83 1297.09,700.66 1295.22,699.5" fill="#151515" stroke="none" stroke-width="1" />
<line x1="1278" y1="714" x2="1280.33" y2="718.19" stroke="#151515" stroke-width="1.1"/>
<polygon points="1283,723 1278.41,719.26 1280.33,718.19 1282.25,717.12" fill="#151515" stroke="none" stroke-width="1" />
<line x1="1376" y1="623" x2="1386.5" y2="623" stroke="#151515" stroke-width="1.1"/>
<polygon points="1392,623 1386.5,625.2 1386.5,623 1386.5,620.8" fill="#151515" stroke="none" stroke-width="1" />
<line x1="1538" y1="629" x2="1538" y2="623.5" stroke="#151515" stroke-width="1.1"/>
<polygon points="1538,618 1540.2,623.5 1538,623.5 1535.8,623.5" fill="#151515" stroke="none" stroke-width="1" />
<line x1="1555.6" y1="618" x2="1555.6" y2="622.5" stroke="#151515" stroke-width="1.1"/>
<polygon points="1555.6,628 1553.4,622.5 1555.6,622.5 1557.8,622.5" fill="#151515" stroke="none" stroke-width="1" />
<line x1="1591" y1="623" x2="1601.5" y2="623" stroke="#151515" stroke-width="1.1"/>
<polygon points="1607,623 1601.5,625.2 1601.5,623 1601.5,620.8" fill="#151515" stroke="none" stroke-width="1" />
<line x1="1679" y1="628" x2="1679" y2="642.5" stroke="#151515" stroke-width="1.1"/>
<polygon points="1679,648 1676.8,642.5 1679,642.5 1681.2,642.5" fill="#151515" stroke="none" stroke-width="1" />
<line x1="1689" y1="624" x2="1701.99" y2="636.23" stroke="#151515" stroke-width="1.1"/>
<polygon points="1706,640 1700.49,637.83 1701.99,636.23 1703.5,634.63" fill="#151515" stroke="none" stroke-width="1" />
<line x1="1711" y1="653" x2="1697.5" y2="653" stroke="#151515" stroke-width="1.1"/>
<polygon points="1692,653 1697.5,650.8 1697.5,653 1697.5,655.2" fill="#151515" stroke="none" stroke-width="1" />
<line x1="1722" y1="636" x2="1734.11" y2="648.11" stroke="#151515" stroke-width="1.1"/>
<polygon points="1738,652 1732.56,649.67 1734.11,648.11 1735.67,646.56" fill="#151515" stroke="none" stroke-width="1" />
<line x1="1778" y1="625" x2="1788.5" y2="625" stroke="#151515" stroke-width="1.1"/>
<polygon points="1794,625 1788.5,627.2 1788.5,625 1788.5,622.8" fill="#151515" stroke="none" stroke-width="1" />
<line x1="1584" y1="681" x2="1596.23" y2="693.99" stroke="#151515" stroke-width="1.1"/>
<polygon points="1600,698 1594.63,695.5 1596.23,693.99 1597.83,692.49" fill="#151515" stroke="none" stroke-width="1" />
<line x1="1608" y1="686" x2="1620.23" y2="698.99" stroke="#151515" stroke-width="1.1"/>
<polygon points="1624,703 1618.63,700.5 1620.23,698.99 1621.83,697.49" fill="#151515" stroke="none" stroke-width="1" />
<line x1="1515" y1="725" x2="1526.5" y2="725" stroke="#151515" stroke-width="1.1"/>
<polygon points="1532,725 1526.5,727.2 1526.5,725 1526.5,722.8" fill="#151515" stroke="none" stroke-width="1" />
<line x1="1579" y1="713" x2="1579" y2="717.5" stroke="#151515" stroke-width="1.1"/>
<polygon points="1579,723 1576.8,717.5 1579,717.5 1581.2,717.5" fill="#151515" stroke="none" stroke-width="1" />
<line x1="1626" y1="723" x2="1608.5" y2="723" stroke="#151515" stroke-width="1.1"/>
<polygon points="1603,723 1608.5,720.8 1608.5,723 1608.5,725.2" fill="#151515" stroke="none" stroke-width="1" />
</g>
<path d="M1254,730.8 L1250.5,760.8" fill="none" stroke="#151515" stroke-width="7.2" />
<path d="M1254,730.8 L1250.5,760.8" fill="none" stroke="#fff" stroke-width="4.4" />
<path d="M1408.5,730.8 L1404,760.8" fill="none" stroke="#151515" stroke-width="7.2" />
<path d="M1408.5,730.8 L1404,760.8" fill="none" stroke="#fff" stroke-width="4.4" />
<path d="M1504,730.8 L1512,760.8" fill="none" stroke="#151515" stroke-width="7.2" />
<path d="M1504,730.8 L1512,760.8" fill="none" stroke="#fff" stroke-width="4.4" />
<line x1="1138" y1="730.4" x2="1655" y2="730.8" stroke="#151515" stroke-width="2.2" />
<line x1="1138" y1="760.8" x2="1655" y2="760.8" stroke="#151515" stroke-width="2.2" />
<path d="M1734,674 L1744,698" fill="none" stroke="#151515" stroke-width="7" />
<path d="M1734,674 L1744,698" fill="none" stroke="#fff" stroke-width="4.2" />
<line x1="1655" y1="730.8" x2="1819" y2="616" stroke="#151515" stroke-width="2.2" />
<line x1="1655" y1="760.8" x2="1819" y2="644.5" stroke="#151515" stroke-width="2.2" />
<line x1="1138" y1="730.4" x2="1304.5" y2="616" stroke="#151515" stroke-width="2.2" />
<line x1="1304.5" y1="616" x2="1819" y2="616" stroke="#151515" stroke-width="2.4" />
<path d="M1416,733 L1420,726 L1498,726 L1504,733" fill="none" stroke="#151515" stroke-width="1.2" />
<line x1="1459.3" y1="665" x2="1459.3" y2="600" stroke="#151515" stroke-width="1.8"/>
<polygon points="1459.3,588 1463.3,600 1459.3,600 1455.3,600" fill="#151515" stroke="none" stroke-width="1" />
<line x1="1459.3" y1="665" x2="1526" y2="665" stroke="#151515" stroke-width="1.8"/>
<polygon points="1540,665 1526,669.5 1526,665 1526,660.5" fill="#151515" stroke="none" stroke-width="1" />
<line x1="1459.3" y1="665" x2="1421.52" y2="691.05" stroke="#151515" stroke-width="1.8"/>
<polygon points="1410,699 1418.97,687.35 1421.52,691.05 1424.08,694.76" fill="#151515" stroke="none" stroke-width="1" />
<text x="1465" y="607" font-family="&quot;Liberation Sans&quot;, sans-serif" font-size="19" font-weight="bold" fill="#111" stroke="#fff" stroke-width="3" paint-order="stroke" stroke-linejoin="round">X<tspan font-size="15" dy="4">3</tspan></text>
<text x="1509" y="655" font-family="&quot;Liberation Sans&quot;, sans-serif" font-size="19" font-weight="bold" fill="#111" stroke="#fff" stroke-width="3" paint-order="stroke" stroke-linejoin="round">X<tspan font-size="15" dy="4">2</tspan></text>
<text x="1409" y="680" font-family="&quot;Liberation Sans&quot;, sans-serif" font-size="19" font-weight="bold" fill="#111" stroke="#fff" stroke-width="3" paint-order="stroke" stroke-linejoin="round">X<tspan font-size="15" dy="4">1</tspan></text>
<line x1="1399" y1="578.5" x2="1428.31" y2="619.77" stroke="#1212e6" stroke-width="6.5"/>
<polygon points="1437,632 1421.38,624.69 1428.31,619.77 1435.24,614.85" fill="#1212e6" stroke="none" stroke-width="1" />
<text x="1151.5" y="752.5" font-family="&quot;Liberation Sans&quot;, sans-serif" font-size="18.3" font-weight="bold" font-style="normal" fill="#1a1a1a" text-anchor="start" >Thin film</text>
<text x="1149" y="790.5" font-family="&quot;Liberation Sans&quot;, sans-serif" font-size="18.3" font-weight="bold" font-style="normal" fill="#1a1a1a" text-anchor="start" >Substrate</text>
<text x="1613" y="856" font-family="&quot;Liberation Serif&quot;, serif" font-size="17" font-weight="bold" font-style="normal" fill="#1a1a1a" text-anchor="middle" >(e)</text>
<text x="1044" y="538" font-family="&quot;Liberation Serif&quot;, serif" font-size="57" font-weight="bold" font-style="normal" fill="#000" text-anchor="start" >(e)</text>
<polygon points="450.3,1237 604.6,1082.5 604.6,1139.5 450.3,1296.3" fill="#8c8a8b" stroke="none" stroke-width="1" />
<defs><linearGradient id="sif" x1="0" y1="0" x2="0" y2="1"><stop offset="0" stop-color="#b4b2b3"/><stop offset="1" stop-color="#a9a6a8"/></linearGradient></defs>
<rect x="104.8" y="1236" width="345.5" height="60.3" fill="url(#sif)"/>
<polygon points="104.8,1234.5 450.3,1234.5 604.6,1080.2 604.6,1083.6 450.3,1238.3 104.8,1238.3" fill="#5b9c9a" stroke="none" stroke-width="1" />
<polygon points="450.3,1234 604.6,1064.8 604.6,1081 450.3,1236.2" fill="#e7a585" stroke="none" stroke-width="1" />
<polygon points="104.8,1235.5 450.3,1235.5 604.6,1066 604.6,1064.8 261,1064.8" fill="#f1b38b" stroke="none" stroke-width="1" />
<polygon points="104.8,1235.8 450.3,1235.8 452,1233.6 106.5,1233.6" fill="#e9a680" stroke="none" stroke-width="1" />
<line x1="168.3" y1="1213.9" x2="298.04" y2="1079.14" stroke="#f5ec2a" stroke-width="1.8" opacity="0.85"/>
<line x1="188.16" y1="1203.76" x2="317.9" y2="1069" stroke="#f5ec2a" stroke-width="1.8" opacity="0.85"/>
<line x1="188.5" y1="1213.9" x2="318.24" y2="1079.14" stroke="#f5ec2a" stroke-width="1.8" opacity="0.85"/>
<line x1="208.37" y1="1203.76" x2="338.1" y2="1069" stroke="#f5ec2a" stroke-width="1.8" opacity="0.85"/>
<line x1="208.7" y1="1213.9" x2="338.44" y2="1079.14" stroke="#f5ec2a" stroke-width="1.8" opacity="0.85"/>
<line x1="228.56" y1="1203.76" x2="358.3" y2="1069" stroke="#f5ec2a" stroke-width="1.8" opacity="0.85"/>
<line x1="228.9" y1="1213.9" x2="358.63" y2="1079.14" stroke="#f5ec2a" stroke-width="1.8" opacity="0.85"/>
<line x1="248.76" y1="1203.76" x2="378.5" y2="1069" stroke="#f5ec2a" stroke-width="1.8" opacity="0.85"/>
<line x1="249.1" y1="1213.9" x2="378.84" y2="1079.14" stroke="#f5ec2a" stroke-width="1.8" opacity="0.85"/>
<line x1="268.96" y1="1203.76" x2="398.7" y2="1069" stroke="#f5ec2a" stroke-width="1.8" opacity="0.85"/>
<line x1="269.3" y1="1213.9" x2="399.04" y2="1079.14" stroke="#f5ec2a" stroke-width="1.8" opacity="0.85"/>
<line x1="289.16" y1="1203.76" x2="418.9" y2="1069" stroke="#f5ec2a" stroke-width="1.8" opacity="0.85"/>
<line x1="289.5" y1="1213.9" x2="419.24" y2="1079.14" stroke="#f5ec2a" stroke-width="1.8" opacity="0.85"/>
<line x1="309.37" y1="1203.76" x2="439.1" y2="1069" stroke="#f5ec2a" stroke-width="1.8" opacity="0.85"/>
<line x1="309.7" y1="1213.9" x2="439.44" y2="1079.14" stroke="#f5ec2a" stroke-width="1.8" opacity="0.85"/>
<line x1="329.56" y1="1203.76" x2="459.3" y2="1069" stroke="#f5ec2a" stroke-width="1.8" opacity="0.85"/>
<line x1="329.9" y1="1213.9" x2="459.63" y2="1079.14" stroke="#f5ec2a" stroke-width="1.8" opacity="0.85"/>
<line x1="349.76" y1="1203.76" x2="479.5" y2="1069" stroke="#f5ec2a" stroke-width="1.8" opacity="0.85"/>
<line x1="350.1" y1="1213.9" x2="479.84" y2="1079.14" stroke="#f5ec2a" stroke-width="1.8" opacity="0.85"/>
<line x1="369.97" y1="1203.76" x2="499.7" y2="1069" stroke="#f5ec2a" stroke-width="1.8" opacity="0.85"/>
<line x1="370.3" y1="1213.9" x2="500.04" y2="1079.14" stroke="#f5ec2a" stroke-width="1.8" opacity="0.85"/>
<line x1="390.16" y1="1203.76" x2="519.9" y2="1069" stroke="#f5ec2a" stroke-width="1.8" opacity="0.85"/>
<line x1="298.5" y1="1068" x2="527.5" y2="1068" stroke="#f2ea12" stroke-width="6.5" stroke-linecap="round"/>
<line x1="159" y1="1213.9" x2="386.9" y2="1213.9" stroke="#f2ea12" stroke-width="6.5" stroke-linecap="round"/>
<defs><clipPath id="cell"><ellipse cx="191.5" cy="1060" rx="35" ry="47.5"/></clipPath></defs>
<ellipse cx="191.5" cy="1060" rx="35" ry="47.5" fill="#f1b38b" stroke="#caa58f" stroke-width="1"/>
<g clip-path="url(#cell)">
<line x1="164" y1="1000" x2="164" y2="1120" stroke="#f2ea12" stroke-width="4.5" />
<line x1="219.5" y1="1000" x2="219.5" y2="1120" stroke="#f2ea12" stroke-width="4.5" />
</g>
<line x1="170" y1="1057.5" x2="213" y2="1057.5" stroke="#1a1a1a" stroke-width="1.8" />
<path d="M178,1061.5 L170,1057.5 L178,1053.5" fill="none" stroke="#1a1a1a" stroke-width="2.16" stroke-linejoin="miter"/>
<path d="M205,1061.5 L213,1057.5 L205,1053.5" fill="none" stroke="#1a1a1a" stroke-width="2.16" stroke-linejoin="miter"/>
<text transform="translate(191,1078.5) scale(1.25,1)" font-family="&quot;Liberation Serif&quot;, serif" font-size="13" font-weight="bold" fill="#1a1a1a" text-anchor="middle">300</text>
<text transform="translate(191,1091) scale(1.25,1)" font-family="&quot;Liberation Serif&quot;, serif" font-size="13" font-weight="bold" fill="#1a1a1a" text-anchor="middle">um</text>
<text transform="translate(232.5,1016.8) scale(1.25,1)" font-family="&quot;Liberation Serif&quot;, serif" font-size="13.5" font-weight="bold" fill="#1a1a1a" text-anchor="middle">30um</text>
<line x1="216" y1="1030" x2="223" y2="1021" stroke="#1a1a1a" stroke-width="1" />
<path d="M222.12,1025.39 L223,1021 L218.97,1022.93" fill="none" stroke="#1a1a1a" stroke-width="1.15" />
<ellipse cx="279.5" cy="1145.5" rx="7.5" ry="16" fill="none" stroke="#3d6f86" stroke-width="1.8" stroke-dasharray="5 3" transform="rotate(8 279.5 1145.5)"/>
<line x1="273" y1="1140" x2="210" y2="1111.5" stroke="#1a1a1a" stroke-width="1.5" stroke-dasharray="4 2.5"/>
<path d="M219.68,1111.93 L210,1111.5 L216.72,1118.49" fill="none" stroke="#1a1a1a" stroke-width="1.7249999999999999" />
<line x1="478.7" y1="1087.6" x2="522.5" y2="1043" stroke="#1a1a1a" stroke-width="1.5" />
<path d="M518.76,1051.94 L522.5,1043 L513.63,1046.9" fill="none" stroke="#1a1a1a" stroke-width="1.7249999999999999" />
<text transform="translate(524,1034.5) scale(1.1,1)" font-family="&quot;Liberation Serif&quot;, serif" font-size="30.5" font-weight="bold" fill="#222" text-anchor="middle">Cr+Au</text>
<text transform="translate(133.3,1160.2) scale(1.08,1)" font-family="&quot;Liberation Serif&quot;, serif" font-size="30.6" font-weight="bold" fill="#222" text-anchor="middle">BTO</text>
<line x1="156.2" y1="1206.3" x2="141.5" y2="1166.5" stroke="#1a1a1a" stroke-width="1.5" />
<path d="M148,1173.7 L141.5,1166.5 L141.24,1176.19" fill="none" stroke="#1a1a1a" stroke-width="1.7249999999999999" />
<text transform="translate(68,1193.2) scale(1.08,1)" font-family="&quot;Liberation Serif&quot;, serif" font-size="30.6" font-weight="bold" fill="#222" text-anchor="middle">STO</text>
<line x1="106.6" y1="1235.7" x2="82.7" y2="1207" stroke="#1a1a1a" stroke-width="1.5" />
<path d="M91.23,1211.61 L82.7,1207 L85.69,1216.22" fill="none" stroke="#1a1a1a" stroke-width="1.7249999999999999" />
<text transform="translate(220.5,1287) scale(1.1,1)" font-family="&quot;Liberation Serif&quot;, serif" font-size="31" font-weight="bold" fill="#333" text-anchor="middle">Si</text>
<text transform="translate(53.3,1287) scale(1.13,1)" font-family="&quot;Liberation Serif&quot;, serif" font-size="24.5" font-weight="bold" fill="#222" text-anchor="middle">0.5 mm</text>
<line x1="101" y1="1249" x2="101" y2="1305.5" stroke="#1a1a1a" stroke-width="2.2" />
<path d="M96.8,1259 L101,1249 L105.2,1259" fill="none" stroke="#1a1a1a" stroke-width="2.64" stroke-linejoin="miter"/>
<path d="M96.8,1295.5 L101,1305.5 L105.2,1295.5" fill="none" stroke="#1a1a1a" stroke-width="2.64" stroke-linejoin="miter"/>
<line x1="91" y1="1248.5" x2="110" y2="1248.5" stroke="#1a1a1a" stroke-width="1.6" />
<line x1="91" y1="1305.5" x2="110" y2="1305.5" stroke="#1a1a1a" stroke-width="1.6" />
<line x1="110.5" y1="1315.8" x2="454" y2="1315.8" stroke="#1a1a1a" stroke-width="2" />
<path d="M120.5,1320.3 L110.5,1315.8 L120.5,1311.3" fill="none" stroke="#1a1a1a" stroke-width="2.4" stroke-linejoin="miter"/>
<path d="M444,1320.3 L454,1315.8 L444,1311.3" fill="none" stroke="#1a1a1a" stroke-width="2.4" stroke-linejoin="miter"/>
<line x1="110.5" y1="1304" x2="110.5" y2="1325" stroke="#1a1a1a" stroke-width="1.4" />
<line x1="454" y1="1304" x2="454" y2="1325" stroke="#1a1a1a" stroke-width="1.4" />
<text transform="translate(286.7,1346) scale(1.13,1)" font-family="&quot;Liberation Serif&quot;, serif" font-size="23.5" font-weight="bold" fill="#222" text-anchor="middle">2 cm</text>
<line x1="461.5" y1="1314.5" x2="621" y2="1160.5" stroke="#1a1a1a" stroke-width="2" />
<path d="M471.82,1310.79 L461.5,1314.5 L465.57,1304.32" fill="none" stroke="#1a1a1a" stroke-width="2.4" stroke-linejoin="miter"/>
<path d="M616.93,1170.68 L621,1160.5 L610.68,1164.21" fill="none" stroke="#1a1a1a" stroke-width="2.4" stroke-linejoin="miter"/>
<line x1="455" y1="1306" x2="469" y2="1322" stroke="#1a1a1a" stroke-width="1.4" />
<line x1="613" y1="1153" x2="627" y2="1168" stroke="#1a1a1a" stroke-width="1.4" />
<text transform="translate(577,1254.5) rotate(-45) scale(1.13,1)" font-family="&quot;Liberation Serif&quot;, serif" font-size="23.5" font-weight="bold" fill="#222" text-anchor="middle">2 cm</text>
<line x1="397.5" y1="1229.4" x2="513.5" y2="1109.7" stroke="#1a1a1a" stroke-width="1.8" />
<path d="M407.48,1225.14 L397.5,1229.4 L401.44,1219.3" fill="none" stroke="#1a1a1a" stroke-width="2.16" stroke-linejoin="miter"/>
<path d="M509.56,1119.8 L513.5,1109.7 L503.52,1113.96" fill="none" stroke="#1a1a1a" stroke-width="2.16" stroke-linejoin="miter"/>
<text transform="translate(473.5,1195) rotate(-46) scale(1.13,1)" font-family="&quot;Liberation Serif&quot;, serif" font-size="23.5" font-weight="bold" fill="#222" text-anchor="middle">1.4 cm</text>
<text x="9.5" y="1014" font-family="&quot;Liberation Serif&quot;, serif" font-size="58" font-weight="bold" font-style="normal" fill="#000" text-anchor="start" >(f)</text>
<defs><linearGradient id="gtop" x1="0" y1="0" x2="1" y2="0"><stop offset="0" stop-color="#3a9670"/><stop offset="0.5" stop-color="#4aa27c"/><stop offset="0.8" stop-color="#68b08e"/><stop offset="1" stop-color="#74b694"/></linearGradient><linearGradient id="gbeam" x1="0" y1="0" x2="1" y2="0"><stop offset="0" stop-color="#4ccaf2"/><stop offset="0.3" stop-color="#3cc4ee"/><stop offset="0.55" stop-color="#56caee"/><stop offset="0.75" stop-color="#86d8f2"/><stop offset="0.88" stop-color="#a8e2f4"/><stop offset="1" stop-color="#bceaf8"/></linearGradient><linearGradient id="gbeamv" x1="0" y1="0" x2="0" y2="1"><stop offset="0" stop-color="#fff" stop-opacity="0.18"/><stop offset="0.5" stop-color="#fff" stop-opacity="0.05"/><stop offset="1" stop-color="#fff" stop-opacity="0"/></linearGradient><filter id="bl1" x="-20%" y="-20%" width="140%" height="140%"><feGaussianBlur stdDeviation="1.2"/></filter><filter id="bl3" x="-20%" y="-20%" width="140%" height="140%"><feGaussianBlur stdDeviation="3"/></filter></defs>
<polygon points="725.7,1277.3 1086.2,1331.5 1163.4,1213.8 1163.4,1199.8 834.8,1199.8 724.5,1245.9" fill="#c08848" stroke="none" stroke-width="1" />
<polygon points="724.5,1245.9 1086.2,1288.6 1086.2,1325.2 725,1273.5" fill="#7c3040" stroke="none" stroke-width="1" />
<polygon points="1086.2,1288.6 1163.4,1199.8 1163.4,1210.8 1086.2,1325.2" fill="#b23a46" stroke="none" stroke-width="1" />
<polygon points="724.5,1245.9 1086.2,1288.6 1163.4,1199.8 834.8,1199.8" fill="url(#gtop)" stroke="none" stroke-width="1" />
<line x1="724.5" y1="1245.9" x2="1086.2" y2="1288.6" stroke="#2c5a4a" stroke-width="1.2" />
<ellipse cx="934" cy="1213" rx="31" ry="13.5" fill="#8a9aa0"/>
<clipPath id="cbeam"><path d="M732.9,982.6 L1016.6,982.6 L1121.7,1232.7 L1009.4,1231 L1022.9,1262.5 C960,1262 900,1256 875,1247 C855,1240 846,1232 839.5,1218 Z"/></clipPath>
<defs><linearGradient id="gb2" gradientUnits="userSpaceOnUse" x1="732.9" y1="0" x2="1017" y2="0"><stop offset="0" stop-color="#aee6f7"/><stop offset="0.04" stop-color="#84d8f3"/><stop offset="0.11" stop-color="#64cff0"/><stop offset="0.2" stop-color="#48c9ee"/><stop offset="0.35" stop-color="#46c8ee"/><stop offset="0.395" stop-color="#76d5f2"/><stop offset="0.445" stop-color="#84d9f3"/><stop offset="0.49" stop-color="#52ccee"/><stop offset="0.6" stop-color="#4ccbee"/><stop offset="0.64" stop-color="#88dbf3"/><stop offset="0.75" stop-color="#9ae1f5"/><stop offset="0.8" stop-color="#80d8f2"/><stop offset="0.85" stop-color="#92def4"/><stop offset="0.885" stop-color="#b4e8f7"/><stop offset="0.91" stop-color="#98dff4"/><stop offset="0.935" stop-color="#bcebf8"/><stop offset="0.955" stop-color="#9ee0f5"/><stop offset="0.975" stop-color="#c0ecf9"/><stop offset="1" stop-color="#a8e4f6"/></linearGradient></defs>
<g clip-path="url(#cbeam)"><rect x="700" y="982.6" width="350" height="300" fill="url(#gb2)" transform="translate(0,982.6) skewX(23.6) translate(0,-982.6)" opacity="0.97"/></g>
<defs><linearGradient id="grp" x1="0" y1="0" x2="0.15" y2="1"><stop offset="0" stop-color="#16a6d6" stop-opacity="0.92"/><stop offset="0.45" stop-color="#22a8c8" stop-opacity="0.8"/><stop offset="1" stop-color="#3aa69a" stop-opacity="0.25"/></linearGradient></defs>
<polygon points="986.4,1181.4 1104,1194.5 1120.7,1231.3 1009.4,1231" fill="url(#grp)" stroke="none" stroke-width="1" />
<polygon points="996,1199 1028,1211 1015,1231 1009,1229.5" fill="#8c8a80" stroke="none" stroke-width="0" opacity="0.85"/>
<path d="M839.5,1218 C846,1232 855,1240 875,1247 C900,1256 960,1262 1022.9,1262.5 L985.3,1179.5 C950,1172 900,1170 880,1175 C860,1185 845,1200 839.5,1218 Z" fill="#2cc4f0" opacity="0.85"/>
<ellipse cx="934" cy="1213" rx="31" ry="13.5" fill="#7fb4c8" opacity="0.6"/>
<path d="M732.9,982.6 L1016.6,982.6 L1121.7,1232.7 L1009.4,1231 L1022.9,1262.5 C960,1262 900,1256 875,1247 C855,1240 846,1232 839.5,1218 Z" fill="url(#gbeamv)"/>
<line x1="1020.5" y1="1222" x2="1180" y2="1223.3" stroke="#222" stroke-width="1.6" />
<circle cx="1020.5" cy="1222" r="3.6" fill="#222" stroke="none" stroke-width="1" />
<line x1="1086.3" y1="1287.5" x2="1202" y2="1289.4" stroke="#222" stroke-width="1.6" />
<circle cx="1086.3" cy="1287.5" r="3.6" fill="#222" stroke="none" stroke-width="1" />
<line x1="1086.3" y1="1311" x2="1150.3" y2="1311.9" stroke="#222" stroke-width="1.6" />
<circle cx="1086.3" cy="1311" r="3.6" fill="#222" stroke="none" stroke-width="1" />
<line x1="1086.3" y1="1329.5" x2="1176.2" y2="1330.2" stroke="#222" stroke-width="1.6" />
<circle cx="1086.3" cy="1329.5" r="3.6" fill="#222" stroke="none" stroke-width="1" />
<text transform="translate(1190,1232.5) scale(1.0,1)" font-family="&quot;Liberation Sans&quot;, sans-serif" font-size="33" fill="#1a1a1a" stroke="#1a1a1a" stroke-width="0.5" letter-spacing="2.5">Pt</text>
<text transform="translate(1201.5,1296.5) scale(0.8,1)" font-family="&quot;Liberation Sans&quot;, sans-serif" font-size="33" fill="#1a1a1a" stroke="#1a1a1a" stroke-width="0.5" letter-spacing="0">BST</text>
<text transform="translate(1153.5,1320.5) scale(1.0,1)" font-family="&quot;Liberation Sans&quot;, sans-serif" font-size="33" fill="#1a1a1a" stroke="#1a1a1a" stroke-width="0.5" letter-spacing="1">Si</text>
<text transform="translate(1185,1345) scale(1.0,1)" font-family="&quot;Liberation Sans&quot;, sans-serif" font-size="33" fill="#1a1a1a" stroke="#1a1a1a" stroke-width="0.5" letter-spacing="2.5">Pt</text>
<text x="646" y="1037" font-family="&quot;Liberation Serif&quot;, serif" font-size="56.5" font-weight="bold" font-style="normal" fill="#000" text-anchor="start" >(g)</text>
<rect x="1413" y="949.5" width="338" height="352.0" fill="#fff" stroke="#4a4a4a" stroke-width="1.8"/>
<line x1="1751" y1="949.5" x2="1751" y2="1301.5" stroke="#777" stroke-width="3.6" />
<line x1="1407" y1="1300.65" x2="1413" y2="1300.65" stroke="#4a4a4a" stroke-width="1.6" />
<line x1="1409.5" y1="1268.72" x2="1413" y2="1268.72" stroke="#4a4a4a" stroke-width="1.3" />
<line x1="1407" y1="1236.8" x2="1413" y2="1236.8" stroke="#4a4a4a" stroke-width="1.6" />
<line x1="1409.5" y1="1204.88" x2="1413" y2="1204.88" stroke="#4a4a4a" stroke-width="1.3" />
<line x1="1407" y1="1172.95" x2="1413" y2="1172.95" stroke="#4a4a4a" stroke-width="1.6" />
<line x1="1409.5" y1="1141.02" x2="1413" y2="1141.02" stroke="#4a4a4a" stroke-width="1.3" />
<line x1="1407" y1="1109.1" x2="1413" y2="1109.1" stroke="#4a4a4a" stroke-width="1.6" />
<line x1="1409.5" y1="1077.17" x2="1413" y2="1077.17" stroke="#4a4a4a" stroke-width="1.3" />
<line x1="1407" y1="1045.25" x2="1413" y2="1045.25" stroke="#4a4a4a" stroke-width="1.6" />
<line x1="1409.5" y1="1013.32" x2="1413" y2="1013.32" stroke="#4a4a4a" stroke-width="1.3" />
<line x1="1407" y1="981.4" x2="1413" y2="981.4" stroke="#4a4a4a" stroke-width="1.6" />
<line x1="1437.72" y1="1301.5" x2="1437.72" y2="1307.5" stroke="#4a4a4a" stroke-width="1.6" />
<line x1="1485.68" y1="1301.5" x2="1485.68" y2="1307.5" stroke="#4a4a4a" stroke-width="1.6" />
<line x1="1533.64" y1="1301.5" x2="1533.64" y2="1307.5" stroke="#4a4a4a" stroke-width="1.6" />
<line x1="1581.6" y1="1301.5" x2="1581.6" y2="1307.5" stroke="#4a4a4a" stroke-width="1.6" />
<line x1="1629.56" y1="1301.5" x2="1629.56" y2="1307.5" stroke="#4a4a4a" stroke-width="1.6" />
<line x1="1677.52" y1="1301.5" x2="1677.52" y2="1307.5" stroke="#4a4a4a" stroke-width="1.6" />
<line x1="1725.48" y1="1301.5" x2="1725.48" y2="1307.5" stroke="#4a4a4a" stroke-width="1.6" />
<line x1="1413.74" y1="1301.5" x2="1413.74" y2="1305" stroke="#4a4a4a" stroke-width="1.3" />
<line x1="1461.7" y1="1301.5" x2="1461.7" y2="1305" stroke="#4a4a4a" stroke-width="1.3" />
<line x1="1509.66" y1="1301.5" x2="1509.66" y2="1305" stroke="#4a4a4a" stroke-width="1.3" />
<line x1="1557.62" y1="1301.5" x2="1557.62" y2="1305" stroke="#4a4a4a" stroke-width="1.3" />
<line x1="1605.58" y1="1301.5" x2="1605.58" y2="1305" stroke="#4a4a4a" stroke-width="1.3" />
<line x1="1653.54" y1="1301.5" x2="1653.54" y2="1305" stroke="#4a4a4a" stroke-width="1.3" />
<line x1="1701.5" y1="1301.5" x2="1701.5" y2="1305" stroke="#4a4a4a" stroke-width="1.3" />
<line x1="1749.46" y1="1301.5" x2="1749.46" y2="1305" stroke="#4a4a4a" stroke-width="1.3" />
<line x1="1581.6" y1="949.5" x2="1581.6" y2="1301.5" stroke="#1c1c1c" stroke-width="2.2" stroke-dasharray="8.5 6"/>
<line x1="1413" y1="1109.1" x2="1751" y2="1109.1" stroke="#1c1c1c" stroke-width="2.6" stroke-dasharray="9 6.5"/>
<path d="M1439,1207 C1442.5,1205.17 1453.17,1200 1460,1196 C1466.83,1192 1473.33,1187.33 1480,1183 C1486.67,1178.67 1493.33,1174.67 1500,1170 C1506.67,1165.33 1513.33,1160.17 1520,1155 C1526.67,1149.83 1533.33,1144.33 1540,1139 C1546.67,1133.67 1553.33,1128.67 1560,1123 C1566.67,1117.33 1573.33,1111.33 1580,1105 C1586.67,1098.67 1593.33,1091.5 1600,1085 C1606.67,1078.5 1613.33,1072.17 1620,1066 C1626.67,1059.83 1633.33,1053.83 1640,1048 C1646.67,1042.17 1653.33,1036.17 1660,1031 C1666.67,1025.83 1673.33,1021 1680,1017 C1686.67,1013 1694.67,1009.17 1700,1007 C1705.33,1004.83 1708.67,1004.17 1712,1004 C1715.33,1003.83 1717.67,1004.83 1720,1006 C1722.33,1007.17 1725,1010.17 1726,1011 L1726,1011 C1725,1012.33 1724.33,1013.83 1720,1019 C1715.67,1024.17 1706.67,1034.17 1700,1042 C1693.33,1049.83 1686.67,1058.17 1680,1066 C1673.33,1073.83 1665,1083 1660,1089 C1655,1095 1653.33,1097.67 1650,1102 C1646.67,1106.33 1643,1110.67 1640,1115 C1637,1119.33 1634.67,1123.5 1632,1128 C1629.33,1132.5 1626.67,1137.33 1624,1142 C1621.33,1146.67 1619,1151.33 1616,1156 C1613,1160.67 1609.33,1165.67 1606,1170 C1602.67,1174.33 1600.07,1177.83 1596,1182 C1591.93,1186.17 1586.6,1191 1581.6,1195 C1576.6,1199 1570.93,1203.17 1566,1206 C1561.07,1208.83 1555.83,1210.33 1552,1212 C1548.17,1213.67 1547.77,1214.67 1543,1216 C1538.23,1217.33 1529.95,1219.17 1523.4,1220 C1516.85,1220.83 1510.27,1221.12 1503.7,1221 C1497.13,1220.88 1490.58,1220.13 1484,1219.3 C1477.42,1218.47 1469.7,1217.1 1464.2,1216 C1458.7,1214.9 1455.2,1214.2 1451,1212.7 C1446.8,1211.2 1441,1207.95 1439,1207" fill="none" stroke="#151515" stroke-width="2.2" stroke-linejoin="round"/>
<path d="M1439.13,1233.57 L1442.6,1229.82 L1447.48,1227.7 L1449.85,1223.27 L1454.6,1218.56 L1457.74,1212.66 L1460.8,1209.05 L1465.35,1207.35 L1468.1,1203.33 L1472.54,1201.5 L1475.49,1197.74 L1479.15,1195 L1483.84,1192.42 L1488.68,1190 L1491.22,1184.88 L1495.43,1181.73 L1500.31,1179.27 L1504.41,1176.11 L1506.85,1171.5 L1509.75,1167.28 L1514.48,1164.67 L1515.57,1158.88 L1520.79,1156.83 L1522.87,1152.35 L1525.88,1148.84 L1529.16,1145.61 L1532.91,1142.89 L1537.36,1140.9 L1539.26,1136.3 L1543.52,1133.68 L1546.99,1130.31 L1549.7,1126.22 L1553.44,1123.11 L1555.65,1118.54 L1558.79,1115.27 L1562.19,1110.52 L1566.29,1106.5 L1570.55,1103.13 L1575.04,1100.15 L1580.19,1098.19 L1583.23,1094.56 L1586.21,1090.88 L1590.67,1088.67 L1593.78,1085.12 L1596.09,1080.75 L1600.16,1078.18 L1604.05,1074.46 L1608.8,1071.69 L1612.49,1067.75 L1615.55,1063.1 L1621.06,1061.11 L1622.49,1055.95 L1626.49,1053.48 L1630.57,1051.1 L1632.57,1046.53 L1636.64,1044.14 L1639.2,1039.76 L1644.29,1038.85 L1648.46,1036.51 L1652.13,1033.4 L1656.65,1031.61 L1659.58,1027.58 L1663.78,1025.11 L1666.88,1021.55 L1670.18,1018.18 L1673.23,1014.57 L1677.44,1012.1 L1680.82,1009.17 L1683.95,1005.13 L1688.3,1002.83 L1691.19,998.45 L1696.37,997.33 L1700.32,994.35 L1705.07,991.5 L1708.7,987.43 L1711.83,982.33 L1720.16,980.67 L1726,984 L1721.79,988.31 L1716.11,990.05 L1713.95,996.48 L1710.94,1002.78 L1707.75,1006.9 L1702.67,1009.45 L1700.84,1014.84 L1697.24,1017.9 L1693.58,1020.91 L1689.09,1023.24 L1687.7,1028.86 L1683.46,1032.1 L1679.88,1035.9 L1675.72,1039.21 L1672.55,1043.35 L1669.11,1047.25 L1667.21,1052.45 L1663.54,1056.17 L1660.32,1060.32 L1655.8,1062.46 L1652.3,1065.63 L1650.91,1070.65 L1647.51,1075.27 L1644.03,1079.83 L1640.53,1084.67 L1635.03,1088.04 L1629.78,1091.82 L1627.25,1096.49 L1624.55,1101.02 L1620.16,1104.2 L1615.26,1108.33 L1609.88,1111.83 L1604.17,1114.31 L1599.55,1118.59 L1596.63,1122.63 L1593.05,1126.08 L1589.57,1129.64 L1586.89,1135.92 L1580.68,1139.11 L1577.09,1143.38 L1573.01,1147.17 L1569.27,1151.39 L1566.93,1156.22 L1563.58,1160.21 L1560.9,1164.9 L1556.36,1167.03 L1554.32,1171.66 L1551.06,1174.89 L1547.38,1178.6 L1544.16,1182.69 L1540.36,1186.36 L1537.68,1190.35 L1534.46,1193.8 L1530.7,1196.87 L1525.8,1201 L1520.27,1204.34 L1515.95,1209.19 L1509.09,1211.22 L1506.48,1215.52 L1504.37,1220.25 L1500.88,1223.8 L1497.41,1227.36 L1493.96,1231.2 L1488.75,1234.12 L1482.39,1234.16 L1476.06,1236.42 L1474.14,1241.57 L1470.8,1245.65 L1465.96,1247.35 L1461.01,1247.72 L1455.99,1247.38 L1450.66,1247.97 L1445.44,1243.53 L1441.03,1239.48 L1439.5,1234 Z" fill="none" stroke="#f02a20" stroke-width="2.3" stroke-linejoin="round"/>
<line x1="1415" y1="965.4" x2="1453" y2="965.4" stroke="#151515" stroke-width="2.2" />
<line x1="1415" y1="987.4" x2="1453" y2="987.4" stroke="#f02a20" stroke-width="1.9" />
<text x="1457" y="971" font-family="&quot;Liberation Sans&quot;, sans-serif" font-size="17" font-weight="normal" font-style="normal" fill="#333" text-anchor="start" >no optical pumping</text>
<text x="1457" y="993" font-family="&quot;Liberation Sans&quot;, sans-serif" font-size="17" font-weight="normal" font-style="normal" fill="#333" text-anchor="start" >optical pumping</text>
<text x="1618" y="999" font-family="&quot;Liberation Serif&quot;, serif" font-size="32" font-weight="bold" font-style="normal" fill="#ec2a22" text-anchor="start" >6V</text>
<text x="1402" y="988.4" font-family="&quot;Liberation Sans&quot;, sans-serif" font-size="20" font-weight="normal" font-style="normal" fill="#3c3c3c" text-anchor="end" >0.2</text>
<text x="1402" y="1052.25" font-family="&quot;Liberation Sans&quot;, sans-serif" font-size="20" font-weight="normal" font-style="normal" fill="#3c3c3c" text-anchor="end" >0.1</text>
<text x="1402" y="1116.1" font-family="&quot;Liberation Sans&quot;, sans-serif" font-size="20" font-weight="normal" font-style="normal" fill="#3c3c3c" text-anchor="end" >0.0</text>
<text x="1402" y="1179.95" font-family="&quot;Liberation Sans&quot;, sans-serif" font-size="20" font-weight="normal" font-style="normal" fill="#3c3c3c" text-anchor="end" >-0.1</text>
<text x="1402" y="1243.8" font-family="&quot;Liberation Sans&quot;, sans-serif" font-size="20" font-weight="normal" font-style="normal" fill="#3c3c3c" text-anchor="end" >-0.2</text>
<text x="1402" y="1307.65" font-family="&quot;Liberation Sans&quot;, sans-serif" font-size="20" font-weight="normal" font-style="normal" fill="#3c3c3c" text-anchor="end" >-0.3</text>
<text x="1437.22" y="1330" font-family="&quot;Liberation Sans&quot;, sans-serif" font-size="20.5" font-weight="normal" font-style="normal" fill="#3c3c3c" text-anchor="middle" >-6</text>
<text x="1485.18" y="1330" font-family="&quot;Liberation Sans&quot;, sans-serif" font-size="20.5" font-weight="normal" font-style="normal" fill="#3c3c3c" text-anchor="middle" >-4</text>
<text x="1533.14" y="1330" font-family="&quot;Liberation Sans&quot;, sans-serif" font-size="20.5" font-weight="normal" font-style="normal" fill="#3c3c3c" text-anchor="middle" >-2</text>
<text x="1581.6" y="1330" font-family="&quot;Liberation Sans&quot;, sans-serif" font-size="20.5" font-weight="normal" font-style="normal" fill="#3c3c3c" text-anchor="middle" >0</text>
<text x="1629.56" y="1330" font-family="&quot;Liberation Sans&quot;, sans-serif" font-size="20.5" font-weight="normal" font-style="normal" fill="#3c3c3c" text-anchor="middle" >2</text>
<text x="1677.52" y="1330" font-family="&quot;Liberation Sans&quot;, sans-serif" font-size="20.5" font-weight="normal" font-style="normal" fill="#3c3c3c" text-anchor="middle" >4</text>
<text x="1725.48" y="1330" font-family="&quot;Liberation Sans&quot;, sans-serif" font-size="20.5" font-weight="normal" font-style="normal" fill="#3c3c3c" text-anchor="middle" >6</text>
<text x="1581.6" y="1358" font-family="&quot;Liberation Sans&quot;, sans-serif" font-size="28" font-weight="normal" font-style="normal" fill="#3a3a3a" text-anchor="middle" >Voltage (V)</text>
<text transform="translate(1357,1142.5) rotate(-90)" font-family="&quot;Liberation Sans&quot;, sans-serif" font-size="28" fill="#3a3a3a" text-anchor="middle">Polarization (a.u.)</text>
<text x="1284.5" y="980" font-family="&quot;Liberation Serif&quot;, serif" font-size="56" font-weight="bold" font-style="normal" fill="#000" text-anchor="start" >(h)</text>
</svg>
</body></html>
